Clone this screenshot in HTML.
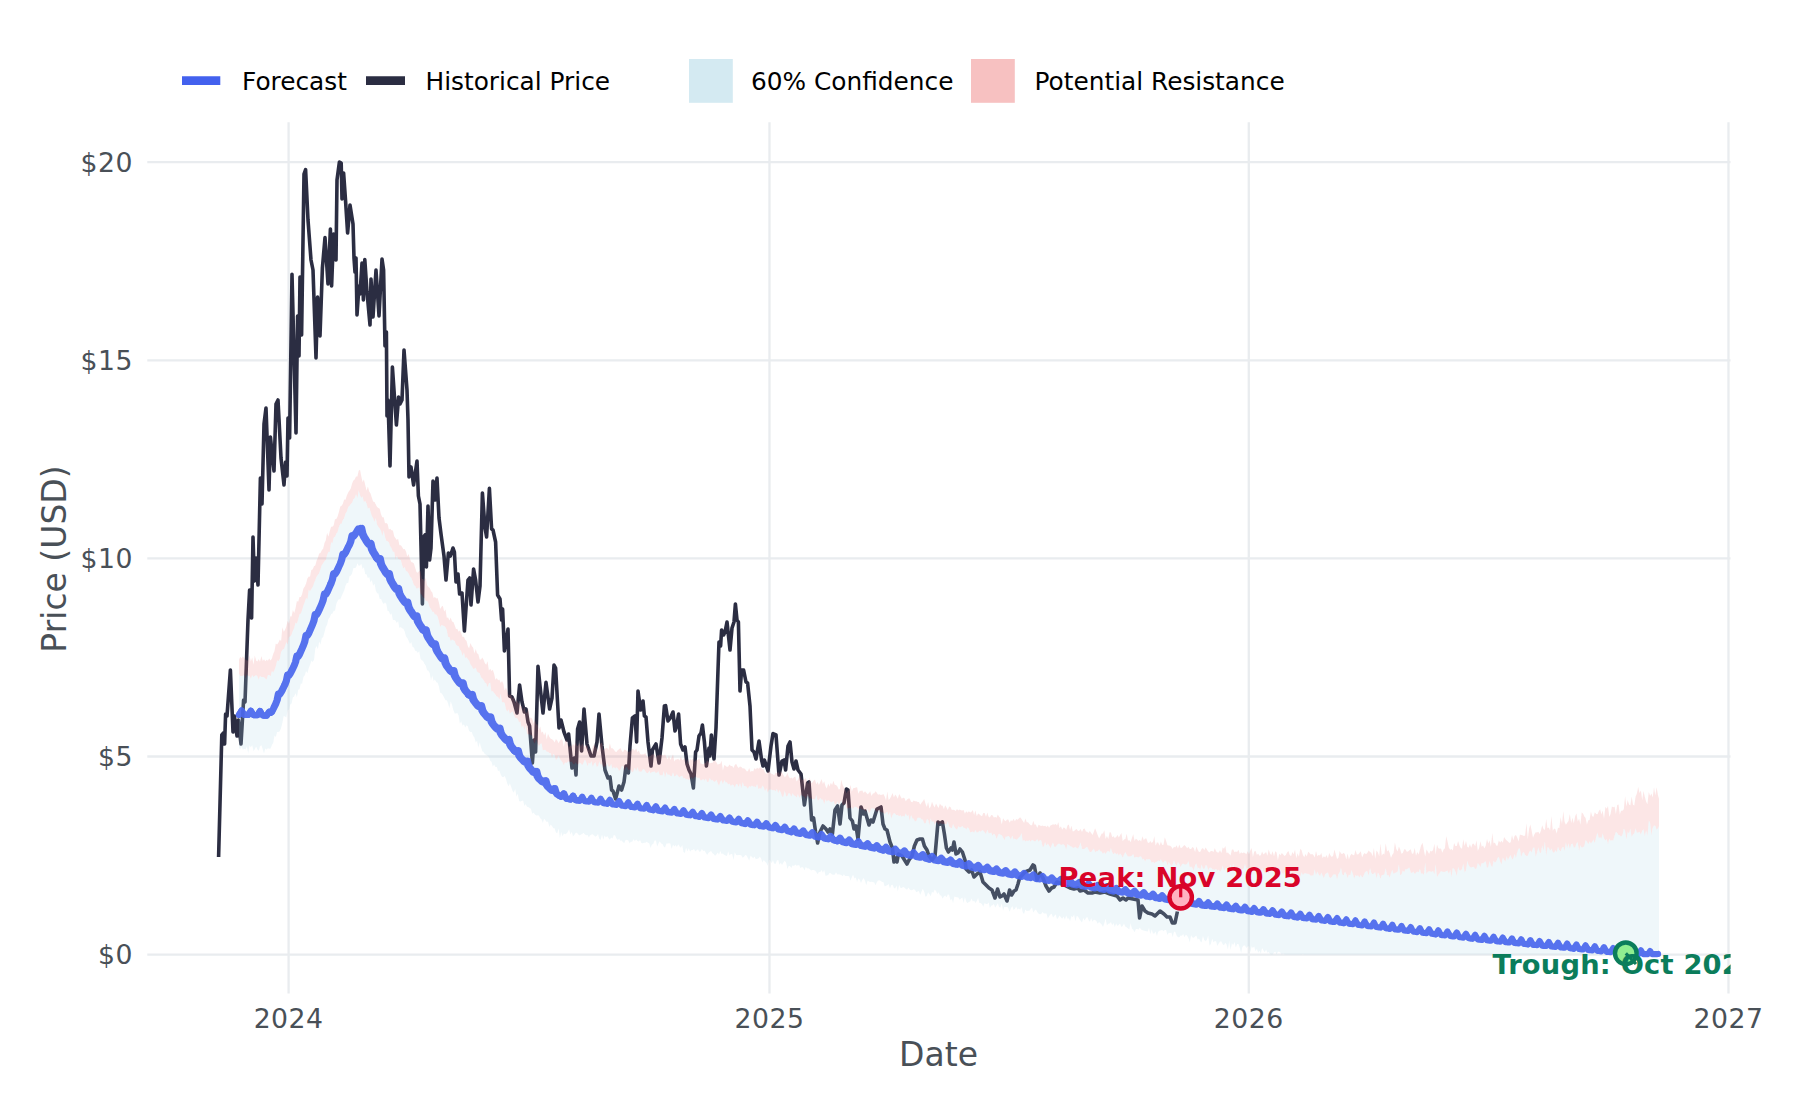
<!DOCTYPE html>
<html lang="en"><head><meta charset="utf-8"><title>Price Forecast</title>
<style>html,body{margin:0;padding:0;background:#fff;}body{width:1800px;height:1100px;overflow:hidden;}svg{display:block;}</style>
</head><body>
<svg width="1800" height="1100" viewBox="0 0 1800 1100">
<rect width="1800" height="1100" fill="#ffffff"/>
<g stroke="#e9ecef" stroke-width="2.3" fill="none">
<line x1="147.3" x2="1730.5" y1="162.2" y2="162.2"/>
<line x1="147.3" x2="1730.5" y1="360.3" y2="360.3"/>
<line x1="147.3" x2="1730.5" y1="558.4" y2="558.4"/>
<line x1="147.3" x2="1730.5" y1="756.5" y2="756.5"/>
<line x1="147.3" x2="1730.5" y1="954.6" y2="954.6"/>
<line x1="288.6" x2="288.6" y1="122.2" y2="993.5"/>
<line x1="769.5" x2="769.5" y1="122.2" y2="993.5"/>
<line x1="1248.8" x2="1248.8" y1="122.2" y2="993.5"/>
<line x1="1728.5" x2="1728.5" y1="122.2" y2="993.5"/>
</g>
<polyline points="218.6,857.0 221.8,735.0 223.5,733.0 224.6,744.0 225.6,714.0 227.0,716.0 230.4,670.0 233.0,732.0 234.4,716.0 237.0,736.0 238.4,720.0 241.0,744.0 243.6,700.0 245.0,702.0 248.0,620.0 249.6,590.0 251.6,618.0 253.0,537.0 254.4,581.0 256.0,558.0 258.0,585.0 260.4,478.0 262.0,504.0 264.0,424.0 266.0,408.0 269.0,490.0 270.4,437.0 274.0,471.0 276.0,404.0 278.0,400.0 281.0,458.0 284.0,485.0 285.6,462.0 287.0,476.0 288.0,418.0 289.6,438.0 292.0,274.4 296.0,433.0 297.6,316.0 299.0,356.0 300.0,277.0 301.6,335.0 304.0,174.0 305.6,169.6 308.0,220.0 311.0,260.0 313.0,270.0 316.0,358.0 317.6,297.0 320.0,336.0 322.4,268.0 325.0,237.6 328.0,284.0 330.4,229.0 331.6,286.0 333.6,234.0 336.0,260.0 337.0,180.0 339.4,162.0 341.2,163.0 342.0,199.0 343.6,173.0 345.5,200.0 347.6,233.0 350.0,205.0 353.0,224.0 354.0,258.0 355.0,272.0 356.0,258.0 357.0,315.0 359.0,286.0 360.0,294.0 362.0,263.0 363.4,300.0 364.8,259.6 367.0,292.0 370.0,325.0 371.0,279.0 373.0,317.0 376.0,270.0 379.0,316.0 382.0,259.0 383.6,270.0 385.0,346.0 386.4,332.0 387.0,416.0 388.0,400.0 390.0,466.0 392.4,367.0 396.4,425.0 398.6,397.0 400.0,404.0 402.0,400.0 404.0,350.0 407.0,390.0 408.0,420.0 409.0,477.0 411.0,467.0 413.6,485.0 417.0,461.0 418.4,496.0 420.0,504.0 422.4,604.0 423.6,537.0 425.0,535.0 426.4,567.0 428.0,506.0 429.6,560.0 431.0,548.0 433.0,481.0 435.0,500.0 437.0,478.0 439.0,518.0 441.0,534.0 444.0,556.0 446.0,580.0 448.4,553.0 450.4,556.0 453.0,548.0 454.4,552.0 456.0,582.0 458.0,574.0 459.6,594.0 462.0,593.0 464.4,631.0 468.0,580.0 469.6,578.0 471.0,605.0 473.6,569.0 475.6,580.0 478.0,602.0 480.0,586.0 482.4,493.0 485.0,528.0 486.6,537.0 489.4,488.4 491.6,529.0 493.0,530.0 495.6,542.0 497.6,595.0 500.0,599.0 501.6,620.0 502.6,609.0 504.4,651.0 508.0,629.0 509.6,696.0 512.0,697.0 514.0,702.0 517.0,713.0 519.6,685.0 522.0,702.0 524.4,712.0 526.0,709.0 528.0,722.0 529.6,726.0 532.4,763.0 534.0,740.0 535.6,752.0 538.0,666.4 540.0,686.0 543.0,713.0 546.0,682.4 549.6,709.0 552.0,698.0 554.0,665.0 555.6,668.0 559.0,728.0 561.0,720.0 564.0,732.0 567.0,740.0 568.6,734.0 572.0,768.0 574.4,758.0 576.0,775.0 577.6,729.0 579.6,722.0 581.6,751.0 584.0,709.0 587.0,744.0 591.0,756.0 594.0,756.0 597.0,742.0 599.0,714.0 602.0,746.0 605.0,770.0 608.0,778.0 610.0,777.0 611.6,790.0 613.0,791.0 615.6,799.0 619.0,786.0 621.6,790.0 624.0,782.0 626.0,766.0 628.4,773.0 630.0,746.0 632.4,718.0 635.0,716.0 636.6,742.0 638.0,691.0 640.6,710.0 643.0,701.0 644.4,716.0 646.0,717.0 648.0,742.0 651.0,766.0 652.4,750.0 656.0,744.0 659.0,763.0 662.0,738.0 664.4,706.0 665.6,705.6 668.0,721.0 670.4,718.0 673.0,712.0 675.0,731.0 676.6,726.0 678.6,714.0 680.6,744.0 683.0,750.0 685.0,747.0 687.0,764.0 689.0,770.0 691.0,774.0 693.4,788.0 695.6,752.0 697.0,750.0 699.0,736.0 701.0,733.0 702.4,725.0 704.4,742.0 706.4,766.0 709.0,748.0 709.8,756.0 711.4,735.0 714.0,759.0 716.0,728.0 718.0,670.0 719.0,642.0 720.6,646.0 721.6,630.0 723.6,635.0 725.0,632.0 727.0,622.0 730.0,650.0 732.0,628.0 734.0,622.0 735.4,604.0 737.0,620.0 738.4,622.0 740.0,691.0 741.6,670.0 743.6,670.0 746.0,682.0 747.6,683.0 750.0,706.0 752.0,750.0 754.0,752.0 756.0,759.0 759.0,741.0 761.6,760.0 763.0,766.0 764.4,760.0 768.0,771.0 771.0,746.0 773.0,733.6 776.0,735.0 779.0,775.0 782.0,761.0 784.0,760.0 785.6,770.0 788.0,746.0 790.0,742.0 792.0,762.0 794.0,769.0 796.0,761.0 798.0,770.0 801.0,774.0 804.4,805.0 807.6,783.0 809.0,782.0 811.6,820.0 813.6,818.0 815.6,832.0 817.6,843.0 820.0,832.0 823.0,826.0 826.0,829.0 828.0,832.0 830.0,829.0 832.4,834.0 835.0,810.0 837.6,806.0 840.0,824.0 842.0,805.0 844.0,803.0 846.4,789.0 848.0,790.0 850.0,818.0 852.4,821.0 854.0,829.0 856.0,826.0 858.0,839.0 861.0,807.0 863.6,814.0 865.0,811.0 869.0,825.0 871.0,820.0 873.0,822.0 877.0,809.0 879.0,808.0 881.0,807.0 883.0,824.0 885.0,829.0 887.0,830.0 890.0,842.0 892.4,848.0 894.0,862.0 895.6,858.0 897.0,862.0 898.4,854.0 902.0,856.0 907.0,864.0 909.0,860.0 912.0,856.0 914.4,846.0 917.0,840.0 920.0,839.0 922.4,839.0 924.4,846.0 927.0,850.0 929.0,856.0 932.0,860.0 935.0,856.0 938.0,822.0 940.0,824.0 942.4,822.0 944.4,834.0 946.4,848.0 948.4,852.0 951.0,848.0 952.4,850.0 954.0,842.0 956.0,854.0 958.0,853.0 960.0,849.0 962.4,852.0 965.0,860.0 966.0,869.0 969.0,872.0 971.6,870.0 974.0,877.0 977.0,874.0 980.0,872.0 983.0,882.0 986.0,885.0 989.0,888.0 992.0,890.0 995.0,898.0 997.6,889.0 1000.0,897.0 1002.0,896.0 1004.0,894.0 1007.0,901.0 1009.6,890.0 1011.6,895.0 1014.0,891.0 1016.0,890.0 1018.0,884.0 1019.6,878.0 1025.0,872.0 1030.0,870.0 1033.0,865.0 1034.4,866.0 1037.0,880.0 1040.0,873.0 1043.0,878.0 1046.0,886.0 1049.0,891.0 1051.6,888.0 1054.0,887.0 1057.0,882.0 1062.0,884.0 1066.0,886.0 1070.0,888.0 1074.0,889.0 1078.0,888.0 1080.0,891.0 1084.0,890.0 1088.0,893.0 1092.0,893.0 1095.0,892.0 1100.0,893.0 1105.0,892.0 1110.0,894.0 1117.0,896.0 1120.0,900.0 1123.0,898.0 1126.0,900.0 1128.0,898.0 1133.0,899.0 1138.0,900.0 1139.6,918.0 1142.0,906.0 1145.0,911.0 1148.0,913.0 1152.0,914.0 1155.0,916.0 1160.0,911.0 1164.0,914.0 1167.0,917.0 1170.0,917.0 1172.4,923.0 1175.0,923.0 1177.4,911.5" fill="none" stroke="#2b2d42" stroke-width="3.6" stroke-linejoin="round" stroke-linecap="butt"/>
<polygon points="239.0,659.8 240.3,656.8 241.6,658.4 242.9,656.2 244.3,658.3 245.6,659.7 246.9,660.6 248.2,660.6 249.5,655.0 250.8,661.4 252.2,657.5 253.5,664.7 254.8,655.4 256.1,660.4 257.4,661.4 258.7,658.9 260.0,661.7 261.4,656.0 262.7,660.9 264.0,659.2 265.3,661.3 266.6,659.7 267.9,660.8 269.2,658.4 270.6,660.4 271.9,658.5 273.2,654.1 274.5,651.1 275.8,643.5 277.1,644.4 278.5,642.6 279.8,639.5 281.1,641.3 282.4,627.2 283.7,631.8 285.0,630.1 286.3,626.5 287.7,620.8 289.0,623.7 290.3,616.2 291.6,616.5 292.9,609.9 294.2,612.9 295.5,608.4 296.9,601.1 298.2,601.8 299.5,597.0 300.8,597.1 302.1,594.2 303.4,588.6 304.8,586.6 306.1,583.5 307.4,578.5 308.7,576.4 310.0,576.8 311.3,570.0 312.6,569.4 314.0,566.3 315.3,565.6 316.6,560.7 317.9,557.7 319.2,553.6 320.5,553.0 321.8,550.2 323.2,548.4 324.5,543.0 325.8,540.2 327.1,532.7 328.4,536.7 329.7,531.6 331.1,526.8 332.4,526.7 333.7,525.3 335.0,519.3 336.3,519.0 337.6,516.4 338.9,512.1 340.3,506.6 341.6,505.8 342.9,503.8 344.2,499.6 345.5,499.8 346.8,495.4 348.2,492.5 349.5,490.4 350.8,488.4 352.1,483.5 353.4,480.6 354.7,479.5 356.0,476.4 357.4,476.4 358.7,470.8 360.0,469.7 361.3,476.5 362.6,482.0 363.9,479.5 365.2,484.9 366.6,490.7 367.9,486.5 369.2,491.4 370.5,493.4 371.8,497.4 373.1,501.4 374.5,502.1 375.8,504.6 377.1,506.9 378.4,507.9 379.7,508.8 381.0,514.2 382.3,517.2 383.7,517.2 385.0,523.3 386.3,523.0 387.6,523.9 388.9,529.6 390.2,528.8 391.5,530.2 392.9,530.5 394.2,536.3 395.5,538.3 396.8,540.0 398.1,538.7 399.4,545.2 400.8,545.2 402.1,547.1 403.4,549.3 404.7,549.0 406.0,551.4 407.3,556.6 408.6,554.1 410.0,559.1 411.3,562.0 412.6,562.6 413.9,563.6 415.2,568.0 416.5,571.9 417.8,572.8 419.2,571.1 420.5,571.3 421.8,579.2 423.1,578.7 424.4,581.4 425.7,577.5 427.1,585.3 428.4,587.0 429.7,588.1 431.0,590.9 432.3,592.4 433.6,597.9 434.9,597.0 436.3,598.5 437.6,597.9 438.9,602.4 440.2,609.0 441.5,606.7 442.8,605.8 444.2,611.6 445.5,609.5 446.8,617.8 448.1,617.6 449.4,620.4 450.7,617.6 452.0,621.6 453.4,621.9 454.7,625.3 456.0,629.1 457.3,628.8 458.6,631.7 459.9,630.4 461.2,633.3 462.6,637.0 463.9,636.7 465.2,639.7 466.5,640.8 467.8,646.0 469.1,648.4 470.5,642.9 471.8,646.3 473.1,647.6 474.4,653.4 475.7,648.9 477.0,653.3 478.3,654.1 479.7,659.5 481.0,659.5 482.3,657.6 483.6,659.8 484.9,663.3 486.2,664.7 487.5,661.3 488.9,670.6 490.2,668.7 491.5,671.0 492.8,669.7 494.1,673.8 495.4,679.8 496.8,678.1 498.1,680.2 499.4,679.5 500.7,683.1 502.0,681.0 503.3,683.4 504.6,690.5 506.0,687.5 507.3,691.6 508.6,694.9 509.9,694.8 511.2,695.0 512.5,699.1 513.8,696.0 515.2,703.4 516.5,699.6 517.8,702.3 519.1,703.8 520.4,706.0 521.7,705.7 523.1,711.4 524.4,706.8 525.7,712.7 527.0,712.7 528.3,708.2 529.6,718.2 530.9,717.5 532.3,719.1 533.6,723.6 534.9,720.2 536.2,724.4 537.5,724.2 538.8,730.2 540.2,726.5 541.5,732.7 542.8,731.4 544.1,735.5 545.4,732.0 546.7,739.6 548.0,733.8 549.4,736.9 550.7,738.7 552.0,739.3 553.3,740.2 554.6,742.4 555.9,739.0 557.2,740.5 558.6,743.3 559.9,740.7 561.2,739.1 562.5,740.2 563.8,746.7 565.1,741.5 566.5,739.9 567.8,743.9 569.1,747.3 570.4,745.3 571.7,746.8 573.0,743.8 574.3,746.2 575.7,741.7 577.0,746.2 578.3,745.2 579.6,743.1 580.9,746.7 582.2,743.5 583.5,745.8 584.9,746.9 586.2,745.0 587.5,746.6 588.8,751.1 590.1,747.3 591.4,751.7 592.8,746.6 594.1,744.4 595.4,747.0 596.7,748.4 598.0,752.5 599.3,745.2 600.6,743.4 602.0,742.4 603.3,749.9 604.6,749.6 605.9,748.1 607.2,748.0 608.5,750.1 609.8,743.2 611.2,748.2 612.5,748.3 613.8,749.5 615.1,751.6 616.4,752.0 617.7,750.3 619.1,749.3 620.4,747.9 621.7,750.7 623.0,752.3 624.3,749.6 625.6,749.9 626.9,751.3 628.3,752.0 629.6,751.6 630.9,751.3 632.2,749.1 633.5,749.2 634.8,750.8 636.2,748.3 637.5,752.3 638.8,750.6 640.1,753.7 641.4,754.6 642.7,754.2 644.0,754.2 645.4,752.9 646.7,756.3 648.0,756.6 649.3,756.6 650.6,755.9 651.9,754.6 653.2,754.5 654.6,754.4 655.9,758.1 657.2,755.1 658.5,755.8 659.8,754.2 661.1,755.5 662.5,755.1 663.8,755.6 665.1,754.2 666.4,757.2 667.7,759.6 669.0,755.3 670.3,760.0 671.7,757.6 673.0,754.3 674.3,761.6 675.6,759.6 676.9,759.6 678.2,758.8 679.5,760.4 680.9,756.5 682.2,760.2 683.5,759.2 684.8,758.3 686.1,764.2 687.4,759.5 688.8,764.3 690.1,758.5 691.4,760.6 692.7,758.6 694.0,762.0 695.3,760.7 696.6,760.0 698.0,760.1 699.3,758.2 700.6,763.6 701.9,763.8 703.2,764.6 704.5,763.2 705.8,762.9 707.2,760.2 708.5,762.1 709.8,763.5 711.1,762.8 712.4,763.1 713.7,760.7 715.1,760.6 716.4,762.3 717.7,764.7 719.0,764.1 720.3,763.8 721.6,760.7 722.9,770.6 724.3,765.1 725.6,765.8 726.9,766.9 728.2,766.4 729.5,764.4 730.8,765.9 732.2,766.1 733.5,768.1 734.8,765.1 736.1,763.8 737.4,766.6 738.7,768.1 740.0,766.5 741.4,767.1 742.7,768.5 744.0,768.3 745.3,769.2 746.6,771.3 747.9,771.2 749.2,768.1 750.6,772.0 751.9,770.8 753.2,771.6 754.5,767.9 755.8,769.4 757.1,767.8 758.5,768.7 759.8,767.4 761.1,767.7 762.4,769.3 763.7,769.3 765.0,772.6 766.3,774.1 767.7,772.2 769.0,771.1 770.3,773.0 771.6,773.7 772.9,774.3 774.2,775.5 775.5,772.8 776.9,772.9 778.2,771.7 779.5,774.3 780.8,771.3 782.1,773.0 783.4,775.1 784.8,777.3 786.1,775.9 787.4,772.8 788.7,776.6 790.0,778.5 791.3,777.6 792.6,778.7 794.0,777.2 795.3,776.5 796.6,781.4 797.9,779.7 799.2,776.8 800.5,776.1 801.8,780.5 803.2,779.5 804.5,779.5 805.8,778.1 807.1,781.9 808.4,784.0 809.7,777.6 811.1,783.0 812.4,782.6 813.7,780.7 815.0,779.6 816.3,784.3 817.6,782.0 818.9,785.0 820.3,782.0 821.6,779.1 822.9,783.9 824.2,781.2 825.5,786.2 826.8,788.6 828.2,783.6 829.5,786.4 830.8,782.8 832.1,785.1 833.4,780.8 834.7,784.7 836.0,785.0 837.4,786.5 838.7,789.5 840.0,788.9 841.3,779.8 842.6,784.7 843.9,787.2 845.2,790.0 846.6,793.6 847.9,790.4 849.2,790.5 850.5,784.7 851.8,791.7 853.1,788.3 854.5,787.9 855.8,787.6 857.1,787.3 858.4,793.8 859.7,791.1 861.0,790.7 862.3,790.5 863.7,792.9 865.0,791.2 866.3,792.8 867.6,794.2 868.9,793.2 870.2,791.3 871.5,795.9 872.9,793.4 874.2,793.2 875.5,791.2 876.8,792.7 878.1,794.7 879.4,794.2 880.8,794.9 882.1,794.8 883.4,794.0 884.7,796.6 886.0,800.6 887.3,791.5 888.6,799.9 890.0,798.4 891.3,796.1 892.6,792.9 893.9,797.4 895.2,794.4 896.5,796.3 897.8,798.7 899.2,794.1 900.5,796.3 901.8,798.8 903.1,797.8 904.4,798.1 905.7,801.3 907.1,799.6 908.4,798.6 909.7,798.6 911.0,801.7 912.3,802.2 913.6,800.5 914.9,801.2 916.3,801.3 917.6,802.1 918.9,802.0 920.2,804.8 921.5,802.8 922.8,801.3 924.2,798.9 925.5,803.8 926.8,807.0 928.1,801.9 929.4,808.4 930.7,806.4 932.0,801.7 933.4,805.2 934.7,807.6 936.0,803.4 937.3,805.9 938.6,808.1 939.9,803.6 941.2,805.5 942.6,805.7 943.9,809.3 945.2,805.2 946.5,807.4 947.8,810.0 949.1,806.6 950.5,807.0 951.8,810.0 953.1,809.7 954.4,810.0 955.7,811.0 957.0,809.0 958.3,810.4 959.7,809.6 961.0,810.2 962.3,810.4 963.6,810.1 964.9,813.8 966.2,811.3 967.5,812.7 968.9,811.3 970.2,812.5 971.5,811.7 972.8,810.0 974.1,815.0 975.4,810.4 976.8,816.2 978.1,813.5 979.4,814.3 980.7,815.4 982.0,816.2 983.3,813.0 984.6,813.1 986.0,816.8 987.3,812.4 988.6,816.7 989.9,817.4 991.2,814.9 992.5,815.2 993.8,817.4 995.2,816.9 996.5,817.7 997.8,814.4 999.1,816.7 1000.4,818.1 1001.7,824.5 1003.1,818.3 1004.4,820.2 1005.7,821.2 1007.0,819.6 1008.3,819.5 1009.6,822.7 1010.9,820.2 1012.3,821.0 1013.6,818.8 1014.9,821.3 1016.2,819.0 1017.5,819.8 1018.8,818.4 1020.2,817.3 1021.5,819.1 1022.8,821.0 1024.1,822.9 1025.4,818.4 1026.7,822.2 1028.0,822.3 1029.4,824.1 1030.7,825.2 1032.0,825.3 1033.3,820.7 1034.6,824.7 1035.9,824.5 1037.2,828.1 1038.6,824.8 1039.9,825.5 1041.2,826.0 1042.5,825.4 1043.8,826.2 1045.1,825.7 1046.5,826.9 1047.8,825.5 1049.1,827.7 1050.4,825.6 1051.7,825.0 1053.0,824.3 1054.3,824.8 1055.7,824.0 1057.0,825.5 1058.3,822.3 1059.6,828.3 1060.9,826.2 1062.2,829.7 1063.5,827.5 1064.9,827.9 1066.2,829.9 1067.5,825.5 1068.8,824.6 1070.1,830.1 1071.4,825.8 1072.8,831.4 1074.1,831.1 1075.4,829.8 1076.7,829.0 1078.0,830.9 1079.3,830.7 1080.6,828.9 1082.0,831.9 1083.3,828.9 1084.6,828.4 1085.9,831.6 1087.2,831.7 1088.5,833.0 1089.8,831.1 1091.2,833.1 1092.5,835.0 1093.8,832.1 1095.1,828.2 1096.4,831.5 1097.7,835.0 1099.1,838.4 1100.4,836.2 1101.7,833.5 1103.0,833.6 1104.3,830.3 1105.6,839.0 1106.9,835.9 1108.3,838.9 1109.6,832.3 1110.9,832.4 1112.2,837.2 1113.5,836.2 1114.8,837.9 1116.2,837.1 1117.5,834.9 1118.8,837.4 1120.1,835.3 1121.4,833.1 1122.7,841.2 1124.0,839.5 1125.4,839.0 1126.7,833.8 1128.0,840.7 1129.3,839.9 1130.6,842.3 1131.9,837.9 1133.2,834.2 1134.6,841.0 1135.9,838.5 1137.2,839.8 1138.5,841.0 1139.8,839.7 1141.1,841.4 1142.5,836.3 1143.8,840.2 1145.1,838.6 1146.4,838.4 1147.7,842.5 1149.0,842.9 1150.3,840.9 1151.7,843.0 1153.0,841.8 1154.3,836.2 1155.6,845.8 1156.9,842.5 1158.2,842.6 1159.5,845.8 1160.9,841.5 1162.2,845.1 1163.5,844.7 1164.8,837.3 1166.1,841.1 1167.4,845.2 1168.8,845.4 1170.1,845.7 1171.4,846.7 1172.7,849.1 1174.0,846.8 1175.3,847.4 1176.6,845.3 1178.0,848.5 1179.3,844.6 1180.6,847.9 1181.9,847.7 1183.2,846.3 1184.5,844.9 1185.8,846.4 1187.2,848.3 1188.5,846.8 1189.8,849.1 1191.1,849.1 1192.4,846.9 1193.7,848.0 1195.1,852.1 1196.4,846.6 1197.7,849.7 1199.0,851.9 1200.3,851.8 1201.6,848.9 1202.9,847.9 1204.3,850.3 1205.6,847.5 1206.9,849.5 1208.2,851.4 1209.5,852.6 1210.8,851.0 1212.2,851.1 1213.5,851.9 1214.8,848.0 1216.1,851.2 1217.4,852.4 1218.7,852.4 1220.0,850.3 1221.4,852.9 1222.7,847.6 1224.0,848.7 1225.3,846.0 1226.6,853.0 1227.9,852.5 1229.2,854.1 1230.6,855.6 1231.9,849.4 1233.2,849.5 1234.5,852.2 1235.8,851.5 1237.1,852.0 1238.5,849.8 1239.8,853.9 1241.1,852.2 1242.4,853.3 1243.7,852.5 1245.0,853.0 1246.3,854.3 1247.7,851.3 1249.0,854.2 1250.3,850.5 1251.6,848.0 1252.9,856.9 1254.2,851.7 1255.5,850.8 1256.9,854.7 1258.2,853.7 1259.5,855.7 1260.8,855.2 1262.1,851.5 1263.4,854.4 1264.8,853.2 1266.1,852.0 1267.4,855.7 1268.7,849.4 1270.0,853.5 1271.3,855.1 1272.6,851.3 1274.0,856.2 1275.3,851.3 1276.6,852.4 1277.9,860.2 1279.2,853.8 1280.5,855.2 1281.8,853.0 1283.2,854.4 1284.5,855.9 1285.8,855.1 1287.1,852.6 1288.4,851.1 1289.7,855.0 1291.1,856.3 1292.4,851.9 1293.7,854.2 1295.0,849.5 1296.3,858.3 1297.6,853.3 1298.9,856.8 1300.3,848.8 1301.6,850.3 1302.9,854.9 1304.2,857.3 1305.5,853.9 1306.8,856.6 1308.2,851.8 1309.5,853.1 1310.8,854.5 1312.1,854.0 1313.4,854.9 1314.7,857.5 1316.0,851.0 1317.4,856.2 1318.7,855.0 1320.0,855.5 1321.3,853.1 1322.6,857.9 1323.9,856.2 1325.2,857.4 1326.6,855.1 1327.9,858.4 1329.2,852.9 1330.5,855.6 1331.8,856.9 1333.1,855.7 1334.5,849.5 1335.8,854.6 1337.1,858.9 1338.4,857.7 1339.7,851.1 1341.0,853.6 1342.3,853.9 1343.7,852.8 1345.0,854.4 1346.3,859.6 1347.6,853.4 1348.9,859.6 1350.2,855.7 1351.5,853.7 1352.9,855.0 1354.2,855.3 1355.5,850.0 1356.8,854.3 1358.1,854.4 1359.4,852.9 1360.8,851.2 1362.1,857.4 1363.4,854.4 1364.7,853.1 1366.0,854.3 1367.3,853.1 1368.6,850.5 1370.0,852.0 1371.3,852.8 1372.6,856.3 1373.9,847.8 1375.2,858.9 1376.5,850.6 1377.8,852.2 1379.2,856.3 1380.5,843.5 1381.8,855.8 1383.1,853.4 1384.4,854.4 1385.7,843.2 1387.1,851.5 1388.4,850.1 1389.7,853.1 1391.0,858.0 1392.3,854.8 1393.6,853.1 1394.9,842.4 1396.3,849.0 1397.6,851.6 1398.9,846.6 1400.2,849.5 1401.5,853.8 1402.8,853.1 1404.2,849.2 1405.5,849.5 1406.8,851.8 1408.1,851.6 1409.4,850.3 1410.7,849.3 1412.0,853.8 1413.4,853.6 1414.7,847.8 1416.0,855.7 1417.3,852.0 1418.6,854.5 1419.9,849.8 1421.2,845.2 1422.6,842.8 1423.9,850.2 1425.2,856.6 1426.5,849.5 1427.8,851.6 1429.1,854.1 1430.5,850.7 1431.8,851.5 1433.1,850.1 1434.4,843.7 1435.7,854.4 1437.0,844.5 1438.3,848.3 1439.7,848.7 1441.0,848.6 1442.3,852.8 1443.6,849.4 1444.9,848.3 1446.2,836.3 1447.5,841.2 1448.9,847.8 1450.2,849.7 1451.5,849.0 1452.8,850.6 1454.1,843.1 1455.4,845.9 1456.8,845.9 1458.1,840.9 1459.4,845.3 1460.7,848.1 1462.0,848.7 1463.3,839.2 1464.6,846.0 1466.0,841.0 1467.3,846.8 1468.6,847.8 1469.9,844.0 1471.2,847.8 1472.5,843.7 1473.8,843.8 1475.2,846.2 1476.5,840.2 1477.8,850.9 1479.1,848.0 1480.4,841.3 1481.7,846.8 1483.1,845.4 1484.4,848.5 1485.7,845.8 1487.0,839.0 1488.3,843.4 1489.6,840.5 1490.9,847.1 1492.3,832.9 1493.6,843.6 1494.9,842.6 1496.2,845.4 1497.5,845.7 1498.8,840.6 1500.2,842.5 1501.5,840.8 1502.8,842.7 1504.1,837.0 1505.4,838.9 1506.7,840.6 1508.0,841.5 1509.4,842.9 1510.7,842.3 1512.0,834.9 1513.3,840.3 1514.6,836.1 1515.9,834.9 1517.2,837.4 1518.6,841.6 1519.9,834.6 1521.2,835.0 1522.5,835.2 1523.8,835.9 1525.1,835.5 1526.5,823.3 1527.8,839.2 1529.1,828.8 1530.4,824.6 1531.7,830.9 1533.0,837.7 1534.3,834.5 1535.7,832.2 1537.0,832.4 1538.3,831.7 1539.6,834.0 1540.9,830.7 1542.2,825.3 1543.5,828.9 1544.9,830.0 1546.2,819.0 1547.5,828.2 1548.8,827.6 1550.1,830.4 1551.4,815.9 1552.8,830.8 1554.1,828.6 1555.4,829.2 1556.7,833.6 1558.0,827.6 1559.3,828.2 1560.6,817.1 1562.0,824.1 1563.3,811.3 1564.6,822.1 1565.9,824.8 1567.2,822.8 1568.5,820.9 1569.8,814.1 1571.2,823.0 1572.5,817.8 1573.8,823.5 1575.1,816.6 1576.4,813.3 1577.7,821.6 1579.1,818.7 1580.4,824.8 1581.7,812.4 1583.0,813.4 1584.3,816.5 1585.6,818.1 1586.9,824.5 1588.3,820.3 1589.6,820.0 1590.9,811.5 1592.2,816.3 1593.5,816.7 1594.8,812.3 1596.2,814.1 1597.5,814.3 1598.8,811.2 1600.1,809.2 1601.4,814.5 1602.7,810.4 1604.0,818.9 1605.4,806.7 1606.7,808.7 1608.0,806.1 1609.3,817.1 1610.6,813.8 1611.9,806.4 1613.2,807.2 1614.6,806.8 1615.9,814.1 1617.2,805.0 1618.5,804.6 1619.8,814.4 1621.1,810.8 1622.5,810.8 1623.8,809.3 1625.1,796.3 1626.4,806.5 1627.7,800.1 1629.0,804.6 1630.3,805.5 1631.7,796.5 1633.0,804.7 1634.3,805.6 1635.6,796.4 1636.9,793.4 1638.2,787.0 1639.5,792.9 1640.9,790.5 1642.2,800.3 1643.5,791.1 1644.8,796.7 1646.1,801.6 1647.4,804.2 1648.8,792.0 1650.1,795.9 1651.4,793.4 1652.7,797.4 1654.0,787.2 1655.3,795.5 1656.6,787.2 1658.0,795.3 1659.0,798.8 1659.0,826.1 1658.0,828.3 1656.6,829.6 1655.3,825.7 1654.0,825.4 1652.7,827.8 1651.4,835.3 1650.1,822.8 1648.8,820.4 1647.4,836.0 1646.1,830.3 1644.8,836.3 1643.5,829.3 1642.2,830.8 1640.9,834.5 1639.5,831.7 1638.2,832.4 1636.9,832.8 1635.6,828.3 1634.3,833.2 1633.0,834.3 1631.7,837.0 1630.3,828.4 1629.0,833.6 1627.7,831.6 1626.4,839.8 1625.1,830.8 1623.8,828.4 1622.5,834.8 1621.1,836.6 1619.8,835.3 1618.5,835.0 1617.2,832.8 1615.9,831.7 1614.6,835.8 1613.2,840.6 1611.9,840.2 1610.6,840.8 1609.3,838.5 1608.0,844.3 1606.7,839.0 1605.4,840.4 1604.0,838.3 1602.7,833.2 1601.4,838.6 1600.1,837.1 1598.8,838.2 1597.5,832.6 1596.2,836.7 1594.8,843.1 1593.5,839.5 1592.2,841.8 1590.9,843.6 1589.6,841.2 1588.3,844.2 1586.9,841.4 1585.6,840.0 1584.3,846.1 1583.0,847.3 1581.7,847.7 1580.4,844.9 1579.1,851.0 1577.7,841.9 1576.4,843.4 1575.1,847.6 1573.8,847.4 1572.5,843.5 1571.2,844.0 1569.8,848.7 1568.5,843.3 1567.2,848.3 1565.9,842.3 1564.6,851.1 1563.3,846.7 1562.0,847.7 1560.6,851.3 1559.3,850.0 1558.0,846.8 1556.7,852.2 1555.4,849.9 1554.1,853.1 1552.8,851.9 1551.4,848.3 1550.1,850.8 1548.8,847.7 1547.5,847.2 1546.2,856.0 1544.9,841.3 1543.5,850.7 1542.2,845.3 1540.9,853.3 1539.6,852.0 1538.3,847.3 1537.0,852.7 1535.7,856.8 1534.3,847.3 1533.0,848.1 1531.7,852.5 1530.4,850.5 1529.1,852.1 1527.8,855.8 1526.5,855.9 1525.1,855.0 1523.8,852.1 1522.5,853.1 1521.2,857.0 1519.9,848.6 1518.6,848.5 1517.2,852.2 1515.9,857.8 1514.6,854.0 1513.3,858.2 1512.0,859.5 1510.7,854.9 1509.4,856.9 1508.0,860.1 1506.7,856.3 1505.4,861.6 1504.1,859.9 1502.8,857.4 1501.5,864.6 1500.2,861.6 1498.8,856.7 1497.5,858.1 1496.2,861.5 1494.9,862.4 1493.6,860.8 1492.3,867.2 1490.9,865.0 1489.6,861.0 1488.3,866.3 1487.0,868.3 1485.7,861.3 1484.4,862.0 1483.1,863.4 1481.7,863.0 1480.4,867.2 1479.1,864.6 1477.8,863.0 1476.5,868.6 1475.2,869.0 1473.8,866.7 1472.5,866.9 1471.2,867.5 1469.9,866.9 1468.6,864.9 1467.3,860.7 1466.0,870.3 1464.6,872.6 1463.3,863.5 1462.0,869.1 1460.7,870.6 1459.4,869.9 1458.1,866.8 1456.8,876.1 1455.4,871.6 1454.1,869.1 1452.8,867.7 1451.5,877.1 1450.2,869.7 1448.9,874.1 1447.5,870.5 1446.2,871.1 1444.9,871.9 1443.6,871.7 1442.3,871.7 1441.0,871.0 1439.7,873.0 1438.3,875.0 1437.0,877.2 1435.7,864.3 1434.4,874.3 1433.1,871.0 1431.8,871.8 1430.5,871.6 1429.1,871.3 1427.8,871.8 1426.5,874.0 1425.2,862.4 1423.9,875.0 1422.6,873.3 1421.2,873.7 1419.9,868.8 1418.6,872.3 1417.3,871.6 1416.0,872.4 1414.7,874.0 1413.4,871.6 1412.0,872.9 1410.7,872.4 1409.4,867.5 1408.1,868.2 1406.8,869.6 1405.5,869.0 1404.2,872.2 1402.8,870.4 1401.5,874.2 1400.2,875.3 1398.9,864.2 1397.6,871.4 1396.3,872.4 1394.9,872.8 1393.6,874.1 1392.3,869.7 1391.0,872.9 1389.7,877.5 1388.4,875.0 1387.1,875.5 1385.7,868.0 1384.4,874.1 1383.1,875.0 1381.8,874.9 1380.5,879.0 1379.2,874.6 1377.8,872.6 1376.5,878.4 1375.2,872.0 1373.9,873.4 1372.6,874.3 1371.3,872.7 1370.0,868.0 1368.6,875.8 1367.3,871.2 1366.0,871.3 1364.7,872.7 1363.4,876.0 1362.1,877.7 1360.8,874.4 1359.4,877.6 1358.1,875.3 1356.8,876.1 1355.5,874.9 1354.2,878.4 1352.9,873.9 1351.5,870.1 1350.2,875.3 1348.9,874.6 1347.6,878.2 1346.3,874.1 1345.0,871.5 1343.7,875.2 1342.3,874.6 1341.0,867.5 1339.7,872.3 1338.4,873.9 1337.1,879.4 1335.8,874.4 1334.5,874.4 1333.1,874.6 1331.8,877.1 1330.5,878.0 1329.2,876.9 1327.9,872.2 1326.6,873.3 1325.2,874.1 1323.9,878.2 1322.6,875.4 1321.3,872.6 1320.0,876.0 1318.7,874.4 1317.4,871.6 1316.0,875.3 1314.7,869.2 1313.4,875.6 1312.1,875.4 1310.8,875.8 1309.5,874.4 1308.2,873.8 1306.8,873.8 1305.5,873.2 1304.2,873.4 1302.9,875.0 1301.6,872.3 1300.3,876.7 1298.9,876.2 1297.6,873.9 1296.3,873.3 1295.0,874.1 1293.7,876.4 1292.4,874.0 1291.1,871.8 1289.7,872.5 1288.4,874.9 1287.1,875.4 1285.8,873.8 1284.5,872.1 1283.2,874.5 1281.8,872.5 1280.5,869.5 1279.2,872.1 1277.9,871.8 1276.6,874.7 1275.3,871.7 1274.0,872.7 1272.6,868.3 1271.3,869.7 1270.0,871.0 1268.7,873.3 1267.4,871.3 1266.1,871.7 1264.8,873.0 1263.4,871.0 1262.1,867.6 1260.8,873.8 1259.5,875.0 1258.2,869.2 1256.9,871.4 1255.5,868.0 1254.2,869.1 1252.9,869.3 1251.6,869.0 1250.3,870.6 1249.0,872.3 1247.7,868.3 1246.3,868.4 1245.0,863.7 1243.7,868.8 1242.4,869.3 1241.1,871.5 1239.8,867.2 1238.5,871.4 1237.1,869.7 1235.8,868.4 1234.5,870.4 1233.2,863.3 1231.9,869.7 1230.6,864.3 1229.2,868.5 1227.9,870.6 1226.6,867.8 1225.3,868.5 1224.0,870.7 1222.7,865.4 1221.4,869.8 1220.0,871.8 1218.7,869.5 1217.4,870.7 1216.1,868.9 1214.8,869.7 1213.5,869.4 1212.2,868.9 1210.8,867.5 1209.5,867.7 1208.2,870.3 1206.9,865.4 1205.6,865.3 1204.3,869.2 1202.9,868.2 1201.6,864.4 1200.3,870.1 1199.0,867.4 1197.7,868.6 1196.4,863.5 1195.1,865.0 1193.7,870.8 1192.4,867.8 1191.1,866.4 1189.8,867.6 1188.5,861.0 1187.2,863.8 1185.8,864.5 1184.5,864.4 1183.2,863.6 1181.9,864.3 1180.6,867.2 1179.3,863.8 1178.0,862.0 1176.6,865.7 1175.3,864.1 1174.0,860.3 1172.7,864.3 1171.4,865.9 1170.1,864.0 1168.8,861.7 1167.4,865.5 1166.1,861.1 1164.8,860.4 1163.5,862.5 1162.2,862.0 1160.9,859.3 1159.5,860.9 1158.2,860.5 1156.9,861.7 1155.6,862.1 1154.3,863.2 1153.0,861.8 1151.7,862.8 1150.3,859.7 1149.0,859.0 1147.7,859.5 1146.4,859.0 1145.1,861.6 1143.8,858.8 1142.5,859.2 1141.1,856.5 1139.8,856.6 1138.5,857.2 1137.2,857.2 1135.9,856.6 1134.6,857.9 1133.2,854.1 1131.9,855.4 1130.6,856.3 1129.3,856.5 1128.0,856.4 1126.7,854.7 1125.4,852.0 1124.0,854.4 1122.7,857.7 1121.4,854.9 1120.1,853.5 1118.8,855.6 1117.5,853.3 1116.2,854.6 1114.8,852.5 1113.5,854.3 1112.2,852.2 1110.9,848.1 1109.6,852.3 1108.3,851.0 1106.9,851.7 1105.6,853.9 1104.3,852.2 1103.0,853.8 1101.7,851.8 1100.4,851.0 1099.1,849.3 1097.7,851.2 1096.4,851.1 1095.1,852.3 1093.8,848.5 1092.5,850.3 1091.2,852.0 1089.8,851.9 1088.5,849.6 1087.2,847.1 1085.9,847.5 1084.6,848.8 1083.3,849.1 1082.0,849.0 1080.6,842.4 1079.3,846.1 1078.0,848.5 1076.7,848.0 1075.4,846.7 1074.1,847.8 1072.8,847.7 1071.4,846.4 1070.1,846.0 1068.8,845.1 1067.5,844.0 1066.2,849.4 1064.9,845.8 1063.5,844.2 1062.2,844.5 1060.9,845.1 1059.6,843.8 1058.3,843.7 1057.0,845.0 1055.7,846.7 1054.3,846.8 1053.0,842.6 1051.7,845.0 1050.4,848.2 1049.1,845.5 1047.8,843.6 1046.5,845.7 1045.1,841.9 1043.8,846.8 1042.5,846.3 1041.2,840.2 1039.9,839.9 1038.6,841.7 1037.2,839.0 1035.9,840.8 1034.6,841.6 1033.3,840.6 1032.0,839.8 1030.7,841.8 1029.4,840.0 1028.0,840.9 1026.7,840.5 1025.4,841.5 1024.1,839.8 1022.8,841.2 1021.5,833.0 1020.2,836.3 1018.8,837.6 1017.5,839.0 1016.2,839.8 1014.9,838.5 1013.6,839.4 1012.3,835.6 1010.9,839.6 1009.6,837.1 1008.3,835.8 1007.0,836.7 1005.7,836.5 1004.4,840.3 1003.1,837.4 1001.7,835.1 1000.4,834.8 999.1,833.6 997.8,835.7 996.5,839.1 995.2,835.0 993.8,833.5 992.5,835.7 991.2,832.5 989.9,833.3 988.6,833.3 987.3,829.4 986.0,834.1 984.6,832.3 983.3,830.5 982.0,830.2 980.7,831.8 979.4,830.7 978.1,832.3 976.8,832.4 975.4,829.9 974.1,832.7 972.8,831.5 971.5,831.9 970.2,832.4 968.9,828.5 967.5,827.2 966.2,829.4 964.9,828.1 963.6,827.7 962.3,826.0 961.0,827.1 959.7,827.4 958.3,826.3 957.0,829.7 955.7,828.8 954.4,827.1 953.1,824.0 951.8,828.3 950.5,827.7 949.1,826.3 947.8,821.2 946.5,824.3 945.2,824.1 943.9,823.7 942.6,824.0 941.2,823.6 939.9,823.0 938.6,825.0 937.3,822.8 936.0,822.1 934.7,824.7 933.4,820.9 932.0,821.9 930.7,818.3 929.4,824.9 928.1,819.5 926.8,819.3 925.5,823.6 924.2,823.0 922.8,819.5 921.5,819.5 920.2,817.7 918.9,817.8 917.6,817.6 916.3,820.9 914.9,821.3 913.6,818.8 912.3,817.9 911.0,815.0 909.7,820.7 908.4,814.7 907.1,816.2 905.7,813.3 904.4,816.7 903.1,815.5 901.8,816.9 900.5,814.9 899.2,816.3 897.8,814.9 896.5,815.3 895.2,813.7 893.9,813.0 892.6,815.0 891.3,818.6 890.0,812.1 888.6,815.2 887.3,811.8 886.0,812.5 884.7,814.0 883.4,812.6 882.1,812.4 880.8,812.0 879.4,810.2 878.1,810.5 876.8,811.9 875.5,810.6 874.2,808.8 872.9,808.5 871.5,808.2 870.2,811.5 868.9,813.2 867.6,808.5 866.3,811.3 865.0,810.8 863.7,809.4 862.3,809.7 861.0,809.1 859.7,808.1 858.4,809.2 857.1,807.8 855.8,806.8 854.5,806.8 853.1,808.9 851.8,807.1 850.5,808.3 849.2,807.7 847.9,808.2 846.6,808.6 845.2,802.7 843.9,805.4 842.6,804.6 841.3,800.0 840.0,802.7 838.7,804.8 837.4,801.3 836.0,804.7 834.7,804.0 833.4,800.8 832.1,802.2 830.8,802.0 829.5,801.1 828.2,800.0 826.8,801.5 825.5,799.2 824.2,804.2 822.9,799.5 821.6,799.8 820.3,797.7 818.9,800.2 817.6,800.3 816.3,794.9 815.0,799.6 813.7,798.9 812.4,799.2 811.1,798.0 809.7,798.6 808.4,796.2 807.1,795.4 805.8,799.3 804.5,796.6 803.2,796.4 801.8,795.1 800.5,795.4 799.2,797.9 797.9,794.1 796.6,797.7 795.3,795.7 794.0,795.6 792.6,793.3 791.3,796.7 790.0,793.5 788.7,792.9 787.4,796.0 786.1,796.3 784.8,790.6 783.4,796.4 782.1,796.8 780.8,792.6 779.5,790.1 778.2,793.3 776.9,788.8 775.5,791.2 774.2,790.1 772.9,790.3 771.6,789.8 770.3,789.3 769.0,789.9 767.7,792.7 766.3,788.3 765.0,791.2 763.7,787.1 762.4,785.4 761.1,789.0 759.8,787.9 758.5,789.2 757.1,784.0 755.8,787.3 754.5,786.6 753.2,786.6 751.9,785.4 750.6,786.7 749.2,786.3 747.9,788.8 746.6,786.8 745.3,786.0 744.0,786.0 742.7,782.1 741.4,788.2 740.0,782.8 738.7,786.9 737.4,784.3 736.1,784.1 734.8,787.5 733.5,784.9 732.2,784.4 730.8,785.9 729.5,783.6 728.2,784.6 726.9,782.3 725.6,782.2 724.3,779.9 722.9,784.2 721.6,780.3 720.3,781.8 719.0,785.7 717.7,782.9 716.4,779.7 715.1,781.7 713.7,781.6 712.4,779.8 711.1,780.6 709.8,777.7 708.5,781.8 707.2,782.1 705.8,778.5 704.5,780.8 703.2,779.0 701.9,780.1 700.6,780.4 699.3,777.5 698.0,778.0 696.6,777.6 695.3,776.2 694.0,777.5 692.7,779.1 691.4,777.1 690.1,779.1 688.8,780.2 687.4,778.9 686.1,779.4 684.8,778.1 683.5,778.3 682.2,775.7 680.9,775.9 679.5,777.6 678.2,776.3 676.9,774.3 675.6,775.8 674.3,776.4 673.0,772.2 671.7,776.3 670.3,775.8 669.0,774.2 667.7,774.9 666.4,772.0 665.1,777.8 663.8,770.9 662.5,775.5 661.1,775.3 659.8,775.2 658.5,771.3 657.2,772.2 655.9,773.2 654.6,771.6 653.2,771.7 651.9,771.9 650.6,773.3 649.3,770.8 648.0,773.3 646.7,773.1 645.4,771.5 644.0,769.0 642.7,769.5 641.4,771.8 640.1,771.4 638.8,771.5 637.5,766.9 636.2,771.2 634.8,767.5 633.5,770.9 632.2,772.4 630.9,770.2 629.6,769.5 628.3,769.9 626.9,766.7 625.6,767.7 624.3,770.6 623.0,766.0 621.7,766.3 620.4,769.4 619.1,771.1 617.7,768.2 616.4,767.3 615.1,768.5 613.8,766.7 612.5,768.7 611.2,763.7 609.8,766.6 608.5,766.4 607.2,763.1 605.9,766.6 604.6,766.3 603.3,767.2 602.0,764.3 600.6,764.8 599.3,761.3 598.0,766.3 596.7,766.8 595.4,762.0 594.1,763.7 592.8,766.8 591.4,761.1 590.1,763.9 588.8,762.4 587.5,766.2 586.2,762.1 584.9,759.6 583.5,762.7 582.2,765.3 580.9,763.2 579.6,762.8 578.3,764.1 577.0,764.4 575.7,761.9 574.3,764.6 573.0,763.7 571.7,761.6 570.4,762.0 569.1,761.6 567.8,761.5 566.5,762.9 565.1,762.3 563.8,765.3 562.5,762.3 561.2,760.6 559.9,758.9 558.6,755.4 557.2,758.7 555.9,760.3 554.6,755.1 553.3,753.9 552.0,758.0 550.7,752.9 549.4,753.1 548.0,751.7 546.7,751.8 545.4,749.8 544.1,750.0 542.8,750.2 541.5,743.3 540.2,744.1 538.8,745.9 537.5,743.3 536.2,739.2 534.9,743.6 533.6,742.0 532.3,735.8 530.9,735.3 529.6,734.3 528.3,734.5 527.0,733.7 525.7,725.5 524.4,730.6 523.1,725.2 521.7,727.7 520.4,721.2 519.1,722.2 517.8,719.0 516.5,717.8 515.2,718.1 513.8,714.6 512.5,711.3 511.2,712.2 509.9,713.8 508.6,709.2 507.3,711.7 506.0,709.2 504.6,702.7 503.3,701.9 502.0,702.2 500.7,693.8 499.4,699.5 498.1,697.0 496.8,696.5 495.4,694.4 494.1,693.1 492.8,691.0 491.5,691.4 490.2,682.5 488.9,683.3 487.5,687.2 486.2,683.2 484.9,682.6 483.6,679.9 482.3,678.4 481.0,677.3 479.7,672.9 478.3,672.4 477.0,671.5 475.7,667.4 474.4,668.7 473.1,668.8 471.8,665.9 470.5,664.4 469.1,660.6 467.8,659.1 466.5,657.2 465.2,657.9 463.9,652.2 462.6,656.0 461.2,651.2 459.9,649.6 458.6,645.9 457.3,645.7 456.0,644.5 454.7,641.0 453.4,640.2 452.0,639.6 450.7,641.0 449.4,636.9 448.1,636.8 446.8,630.1 445.5,627.3 444.2,626.1 442.8,625.6 441.5,625.1 440.2,626.9 438.9,621.1 437.6,616.4 436.3,614.5 434.9,614.5 433.6,611.7 432.3,611.8 431.0,609.1 429.7,607.4 428.4,603.1 427.1,600.9 425.7,601.0 424.4,598.1 423.1,597.2 421.8,594.7 420.5,594.0 419.2,587.2 417.8,588.2 416.5,588.5 415.2,585.9 413.9,584.9 412.6,581.2 411.3,577.8 410.0,576.5 408.6,573.6 407.3,571.6 406.0,571.1 404.7,567.0 403.4,568.5 402.1,564.9 400.8,559.9 399.4,559.2 398.1,559.1 396.8,555.7 395.5,559.6 394.2,551.7 392.9,551.8 391.5,548.0 390.2,546.3 388.9,542.3 387.6,541.2 386.3,540.8 385.0,536.9 383.7,530.2 382.3,536.1 381.0,530.7 379.7,528.4 378.4,526.8 377.1,524.7 375.8,517.9 374.5,521.7 373.1,518.0 371.8,516.1 370.5,511.6 369.2,507.3 367.9,508.7 366.6,503.4 365.2,500.7 363.9,502.2 362.6,496.3 361.3,498.1 360.0,495.0 358.7,490.5 357.4,497.9 356.0,494.1 354.7,498.2 353.4,498.9 352.1,502.8 350.8,504.1 349.5,505.8 348.2,507.1 346.8,511.6 345.5,513.6 344.2,518.3 342.9,519.7 341.6,523.7 340.3,523.8 338.9,526.7 337.6,532.0 336.3,533.5 335.0,536.8 333.7,537.4 332.4,543.3 331.1,542.3 329.7,552.0 328.4,551.7 327.1,555.1 325.8,560.1 324.5,561.0 323.2,563.2 321.8,565.0 320.5,569.1 319.2,572.9 317.9,574.7 316.6,576.8 315.3,580.1 314.0,583.2 312.6,586.9 311.3,588.9 310.0,591.2 308.7,589.7 307.4,599.6 306.1,597.7 304.8,602.0 303.4,605.4 302.1,610.0 300.8,613.5 299.5,614.3 298.2,619.2 296.9,623.7 295.5,622.5 294.2,628.1 292.9,630.5 291.6,634.4 290.3,636.4 289.0,637.0 287.7,644.5 286.3,641.9 285.0,646.2 283.7,649.2 282.4,649.7 281.1,652.0 279.8,659.0 278.5,661.0 277.1,660.5 275.8,666.2 274.5,670.1 273.2,672.6 271.9,671.0 270.6,676.3 269.2,674.9 267.9,675.0 266.6,679.4 265.3,678.5 264.0,677.3 262.7,676.9 261.4,676.9 260.0,675.9 258.7,679.5 257.4,676.5 256.1,674.9 254.8,676.1 253.5,677.1 252.2,674.9 250.8,678.8 249.5,675.4 248.2,676.4 246.9,674.1 245.6,678.2 244.3,674.9 242.9,675.8 241.6,676.0 240.3,676.1 239.0,673.8" fill="#f08080" fill-opacity="0.2"/>
<polygon points="239.0,673.8 240.3,676.1 241.6,676.0 242.9,675.8 244.3,674.9 245.6,678.2 246.9,674.1 248.2,676.4 249.5,675.4 250.8,678.8 252.2,674.9 253.5,677.1 254.8,676.1 256.1,674.9 257.4,676.5 258.7,679.5 260.0,675.9 261.4,676.9 262.7,676.9 264.0,677.3 265.3,678.5 266.6,679.4 267.9,675.0 269.2,674.9 270.6,676.3 271.9,671.0 273.2,672.6 274.5,670.1 275.8,666.2 277.1,660.5 278.5,661.0 279.8,659.0 281.1,652.0 282.4,649.7 283.7,649.2 285.0,646.2 286.3,641.9 287.7,644.5 289.0,637.0 290.3,636.4 291.6,634.4 292.9,630.5 294.2,628.1 295.5,622.5 296.9,623.7 298.2,619.2 299.5,614.3 300.8,613.5 302.1,610.0 303.4,605.4 304.8,602.0 306.1,597.7 307.4,599.6 308.7,589.7 310.0,591.2 311.3,588.9 312.6,586.9 314.0,583.2 315.3,580.1 316.6,576.8 317.9,574.7 319.2,572.9 320.5,569.1 321.8,565.0 323.2,563.2 324.5,561.0 325.8,560.1 327.1,555.1 328.4,551.7 329.7,552.0 331.1,542.3 332.4,543.3 333.7,537.4 335.0,536.8 336.3,533.5 337.6,532.0 338.9,526.7 340.3,523.8 341.6,523.7 342.9,519.7 344.2,518.3 345.5,513.6 346.8,511.6 348.2,507.1 349.5,505.8 350.8,504.1 352.1,502.8 353.4,498.9 354.7,498.2 356.0,494.1 357.4,497.9 358.7,490.5 360.0,495.0 361.3,498.1 362.6,496.3 363.9,502.2 365.2,500.7 366.6,503.4 367.9,508.7 369.2,507.3 370.5,511.6 371.8,516.1 373.1,518.0 374.5,521.7 375.8,517.9 377.1,524.7 378.4,526.8 379.7,528.4 381.0,530.7 382.3,536.1 383.7,530.2 385.0,536.9 386.3,540.8 387.6,541.2 388.9,542.3 390.2,546.3 391.5,548.0 392.9,551.8 394.2,551.7 395.5,559.6 396.8,555.7 398.1,559.1 399.4,559.2 400.8,559.9 402.1,564.9 403.4,568.5 404.7,567.0 406.0,571.1 407.3,571.6 408.6,573.6 410.0,576.5 411.3,577.8 412.6,581.2 413.9,584.9 415.2,585.9 416.5,588.5 417.8,588.2 419.2,587.2 420.5,594.0 421.8,594.7 423.1,597.2 424.4,598.1 425.7,601.0 427.1,600.9 428.4,603.1 429.7,607.4 431.0,609.1 432.3,611.8 433.6,611.7 434.9,614.5 436.3,614.5 437.6,616.4 438.9,621.1 440.2,626.9 441.5,625.1 442.8,625.6 444.2,626.1 445.5,627.3 446.8,630.1 448.1,636.8 449.4,636.9 450.7,641.0 452.0,639.6 453.4,640.2 454.7,641.0 456.0,644.5 457.3,645.7 458.6,645.9 459.9,649.6 461.2,651.2 462.6,656.0 463.9,652.2 465.2,657.9 466.5,657.2 467.8,659.1 469.1,660.6 470.5,664.4 471.8,665.9 473.1,668.8 474.4,668.7 475.7,667.4 477.0,671.5 478.3,672.4 479.7,672.9 481.0,677.3 482.3,678.4 483.6,679.9 484.9,682.6 486.2,683.2 487.5,687.2 488.9,683.3 490.2,682.5 491.5,691.4 492.8,691.0 494.1,693.1 495.4,694.4 496.8,696.5 498.1,697.0 499.4,699.5 500.7,693.8 502.0,702.2 503.3,701.9 504.6,702.7 506.0,709.2 507.3,711.7 508.6,709.2 509.9,713.8 511.2,712.2 512.5,711.3 513.8,714.6 515.2,718.1 516.5,717.8 517.8,719.0 519.1,722.2 520.4,721.2 521.7,727.7 523.1,725.2 524.4,730.6 525.7,725.5 527.0,733.7 528.3,734.5 529.6,734.3 530.9,735.3 532.3,735.8 533.6,742.0 534.9,743.6 536.2,739.2 537.5,743.3 538.8,745.9 540.2,744.1 541.5,743.3 542.8,750.2 544.1,750.0 545.4,749.8 546.7,751.8 548.0,751.7 549.4,753.1 550.7,752.9 552.0,758.0 553.3,753.9 554.6,755.1 555.9,760.3 557.2,758.7 558.6,755.4 559.9,758.9 561.2,760.6 562.5,762.3 563.8,765.3 565.1,762.3 566.5,762.9 567.8,761.5 569.1,761.6 570.4,762.0 571.7,761.6 573.0,763.7 574.3,764.6 575.7,761.9 577.0,764.4 578.3,764.1 579.6,762.8 580.9,763.2 582.2,765.3 583.5,762.7 584.9,759.6 586.2,762.1 587.5,766.2 588.8,762.4 590.1,763.9 591.4,761.1 592.8,766.8 594.1,763.7 595.4,762.0 596.7,766.8 598.0,766.3 599.3,761.3 600.6,764.8 602.0,764.3 603.3,767.2 604.6,766.3 605.9,766.6 607.2,763.1 608.5,766.4 609.8,766.6 611.2,763.7 612.5,768.7 613.8,766.7 615.1,768.5 616.4,767.3 617.7,768.2 619.1,771.1 620.4,769.4 621.7,766.3 623.0,766.0 624.3,770.6 625.6,767.7 626.9,766.7 628.3,769.9 629.6,769.5 630.9,770.2 632.2,772.4 633.5,770.9 634.8,767.5 636.2,771.2 637.5,766.9 638.8,771.5 640.1,771.4 641.4,771.8 642.7,769.5 644.0,769.0 645.4,771.5 646.7,773.1 648.0,773.3 649.3,770.8 650.6,773.3 651.9,771.9 653.2,771.7 654.6,771.6 655.9,773.2 657.2,772.2 658.5,771.3 659.8,775.2 661.1,775.3 662.5,775.5 663.8,770.9 665.1,777.8 666.4,772.0 667.7,774.9 669.0,774.2 670.3,775.8 671.7,776.3 673.0,772.2 674.3,776.4 675.6,775.8 676.9,774.3 678.2,776.3 679.5,777.6 680.9,775.9 682.2,775.7 683.5,778.3 684.8,778.1 686.1,779.4 687.4,778.9 688.8,780.2 690.1,779.1 691.4,777.1 692.7,779.1 694.0,777.5 695.3,776.2 696.6,777.6 698.0,778.0 699.3,777.5 700.6,780.4 701.9,780.1 703.2,779.0 704.5,780.8 705.8,778.5 707.2,782.1 708.5,781.8 709.8,777.7 711.1,780.6 712.4,779.8 713.7,781.6 715.1,781.7 716.4,779.7 717.7,782.9 719.0,785.7 720.3,781.8 721.6,780.3 722.9,784.2 724.3,779.9 725.6,782.2 726.9,782.3 728.2,784.6 729.5,783.6 730.8,785.9 732.2,784.4 733.5,784.9 734.8,787.5 736.1,784.1 737.4,784.3 738.7,786.9 740.0,782.8 741.4,788.2 742.7,782.1 744.0,786.0 745.3,786.0 746.6,786.8 747.9,788.8 749.2,786.3 750.6,786.7 751.9,785.4 753.2,786.6 754.5,786.6 755.8,787.3 757.1,784.0 758.5,789.2 759.8,787.9 761.1,789.0 762.4,785.4 763.7,787.1 765.0,791.2 766.3,788.3 767.7,792.7 769.0,789.9 770.3,789.3 771.6,789.8 772.9,790.3 774.2,790.1 775.5,791.2 776.9,788.8 778.2,793.3 779.5,790.1 780.8,792.6 782.1,796.8 783.4,796.4 784.8,790.6 786.1,796.3 787.4,796.0 788.7,792.9 790.0,793.5 791.3,796.7 792.6,793.3 794.0,795.6 795.3,795.7 796.6,797.7 797.9,794.1 799.2,797.9 800.5,795.4 801.8,795.1 803.2,796.4 804.5,796.6 805.8,799.3 807.1,795.4 808.4,796.2 809.7,798.6 811.1,798.0 812.4,799.2 813.7,798.9 815.0,799.6 816.3,794.9 817.6,800.3 818.9,800.2 820.3,797.7 821.6,799.8 822.9,799.5 824.2,804.2 825.5,799.2 826.8,801.5 828.2,800.0 829.5,801.1 830.8,802.0 832.1,802.2 833.4,800.8 834.7,804.0 836.0,804.7 837.4,801.3 838.7,804.8 840.0,802.7 841.3,800.0 842.6,804.6 843.9,805.4 845.2,802.7 846.6,808.6 847.9,808.2 849.2,807.7 850.5,808.3 851.8,807.1 853.1,808.9 854.5,806.8 855.8,806.8 857.1,807.8 858.4,809.2 859.7,808.1 861.0,809.1 862.3,809.7 863.7,809.4 865.0,810.8 866.3,811.3 867.6,808.5 868.9,813.2 870.2,811.5 871.5,808.2 872.9,808.5 874.2,808.8 875.5,810.6 876.8,811.9 878.1,810.5 879.4,810.2 880.8,812.0 882.1,812.4 883.4,812.6 884.7,814.0 886.0,812.5 887.3,811.8 888.6,815.2 890.0,812.1 891.3,818.6 892.6,815.0 893.9,813.0 895.2,813.7 896.5,815.3 897.8,814.9 899.2,816.3 900.5,814.9 901.8,816.9 903.1,815.5 904.4,816.7 905.7,813.3 907.1,816.2 908.4,814.7 909.7,820.7 911.0,815.0 912.3,817.9 913.6,818.8 914.9,821.3 916.3,820.9 917.6,817.6 918.9,817.8 920.2,817.7 921.5,819.5 922.8,819.5 924.2,823.0 925.5,823.6 926.8,819.3 928.1,819.5 929.4,824.9 930.7,818.3 932.0,821.9 933.4,820.9 934.7,824.7 936.0,822.1 937.3,822.8 938.6,825.0 939.9,823.0 941.2,823.6 942.6,824.0 943.9,823.7 945.2,824.1 946.5,824.3 947.8,821.2 949.1,826.3 950.5,827.7 951.8,828.3 953.1,824.0 954.4,827.1 955.7,828.8 957.0,829.7 958.3,826.3 959.7,827.4 961.0,827.1 962.3,826.0 963.6,827.7 964.9,828.1 966.2,829.4 967.5,827.2 968.9,828.5 970.2,832.4 971.5,831.9 972.8,831.5 974.1,832.7 975.4,829.9 976.8,832.4 978.1,832.3 979.4,830.7 980.7,831.8 982.0,830.2 983.3,830.5 984.6,832.3 986.0,834.1 987.3,829.4 988.6,833.3 989.9,833.3 991.2,832.5 992.5,835.7 993.8,833.5 995.2,835.0 996.5,839.1 997.8,835.7 999.1,833.6 1000.4,834.8 1001.7,835.1 1003.1,837.4 1004.4,840.3 1005.7,836.5 1007.0,836.7 1008.3,835.8 1009.6,837.1 1010.9,839.6 1012.3,835.6 1013.6,839.4 1014.9,838.5 1016.2,839.8 1017.5,839.0 1018.8,837.6 1020.2,836.3 1021.5,833.0 1022.8,841.2 1024.1,839.8 1025.4,841.5 1026.7,840.5 1028.0,840.9 1029.4,840.0 1030.7,841.8 1032.0,839.8 1033.3,840.6 1034.6,841.6 1035.9,840.8 1037.2,839.0 1038.6,841.7 1039.9,839.9 1041.2,840.2 1042.5,846.3 1043.8,846.8 1045.1,841.9 1046.5,845.7 1047.8,843.6 1049.1,845.5 1050.4,848.2 1051.7,845.0 1053.0,842.6 1054.3,846.8 1055.7,846.7 1057.0,845.0 1058.3,843.7 1059.6,843.8 1060.9,845.1 1062.2,844.5 1063.5,844.2 1064.9,845.8 1066.2,849.4 1067.5,844.0 1068.8,845.1 1070.1,846.0 1071.4,846.4 1072.8,847.7 1074.1,847.8 1075.4,846.7 1076.7,848.0 1078.0,848.5 1079.3,846.1 1080.6,842.4 1082.0,849.0 1083.3,849.1 1084.6,848.8 1085.9,847.5 1087.2,847.1 1088.5,849.6 1089.8,851.9 1091.2,852.0 1092.5,850.3 1093.8,848.5 1095.1,852.3 1096.4,851.1 1097.7,851.2 1099.1,849.3 1100.4,851.0 1101.7,851.8 1103.0,853.8 1104.3,852.2 1105.6,853.9 1106.9,851.7 1108.3,851.0 1109.6,852.3 1110.9,848.1 1112.2,852.2 1113.5,854.3 1114.8,852.5 1116.2,854.6 1117.5,853.3 1118.8,855.6 1120.1,853.5 1121.4,854.9 1122.7,857.7 1124.0,854.4 1125.4,852.0 1126.7,854.7 1128.0,856.4 1129.3,856.5 1130.6,856.3 1131.9,855.4 1133.2,854.1 1134.6,857.9 1135.9,856.6 1137.2,857.2 1138.5,857.2 1139.8,856.6 1141.1,856.5 1142.5,859.2 1143.8,858.8 1145.1,861.6 1146.4,859.0 1147.7,859.5 1149.0,859.0 1150.3,859.7 1151.7,862.8 1153.0,861.8 1154.3,863.2 1155.6,862.1 1156.9,861.7 1158.2,860.5 1159.5,860.9 1160.9,859.3 1162.2,862.0 1163.5,862.5 1164.8,860.4 1166.1,861.1 1167.4,865.5 1168.8,861.7 1170.1,864.0 1171.4,865.9 1172.7,864.3 1174.0,860.3 1175.3,864.1 1176.6,865.7 1178.0,862.0 1179.3,863.8 1180.6,867.2 1181.9,864.3 1183.2,863.6 1184.5,864.4 1185.8,864.5 1187.2,863.8 1188.5,861.0 1189.8,867.6 1191.1,866.4 1192.4,867.8 1193.7,870.8 1195.1,865.0 1196.4,863.5 1197.7,868.6 1199.0,867.4 1200.3,870.1 1201.6,864.4 1202.9,868.2 1204.3,869.2 1205.6,865.3 1206.9,865.4 1208.2,870.3 1209.5,867.7 1210.8,867.5 1212.2,868.9 1213.5,869.4 1214.8,869.7 1216.1,868.9 1217.4,870.7 1218.7,869.5 1220.0,871.8 1221.4,869.8 1222.7,865.4 1224.0,870.7 1225.3,868.5 1226.6,867.8 1227.9,870.6 1229.2,868.5 1230.6,864.3 1231.9,869.7 1233.2,863.3 1234.5,870.4 1235.8,868.4 1237.1,869.7 1238.5,871.4 1239.8,867.2 1241.1,871.5 1242.4,869.3 1243.7,868.8 1245.0,863.7 1246.3,868.4 1247.7,868.3 1249.0,872.3 1250.3,870.6 1251.6,869.0 1252.9,869.3 1254.2,869.1 1255.5,868.0 1256.9,871.4 1258.2,869.2 1259.5,875.0 1260.8,873.8 1262.1,867.6 1263.4,871.0 1264.8,873.0 1266.1,871.7 1267.4,871.3 1268.7,873.3 1270.0,871.0 1271.3,869.7 1272.6,868.3 1274.0,872.7 1275.3,871.7 1276.6,874.7 1277.9,871.8 1279.2,872.1 1280.5,869.5 1281.8,872.5 1283.2,874.5 1284.5,872.1 1285.8,873.8 1287.1,875.4 1288.4,874.9 1289.7,872.5 1291.1,871.8 1292.4,874.0 1293.7,876.4 1295.0,874.1 1296.3,873.3 1297.6,873.9 1298.9,876.2 1300.3,876.7 1301.6,872.3 1302.9,875.0 1304.2,873.4 1305.5,873.2 1306.8,873.8 1308.2,873.8 1309.5,874.4 1310.8,875.8 1312.1,875.4 1313.4,875.6 1314.7,869.2 1316.0,875.3 1317.4,871.6 1318.7,874.4 1320.0,876.0 1321.3,872.6 1322.6,875.4 1323.9,878.2 1325.2,874.1 1326.6,873.3 1327.9,872.2 1329.2,876.9 1330.5,878.0 1331.8,877.1 1333.1,874.6 1334.5,874.4 1335.8,874.4 1337.1,879.4 1338.4,873.9 1339.7,872.3 1341.0,867.5 1342.3,874.6 1343.7,875.2 1345.0,871.5 1346.3,874.1 1347.6,878.2 1348.9,874.6 1350.2,875.3 1351.5,870.1 1352.9,873.9 1354.2,878.4 1355.5,874.9 1356.8,876.1 1358.1,875.3 1359.4,877.6 1360.8,874.4 1362.1,877.7 1363.4,876.0 1364.7,872.7 1366.0,871.3 1367.3,871.2 1368.6,875.8 1370.0,868.0 1371.3,872.7 1372.6,874.3 1373.9,873.4 1375.2,872.0 1376.5,878.4 1377.8,872.6 1379.2,874.6 1380.5,879.0 1381.8,874.9 1383.1,875.0 1384.4,874.1 1385.7,868.0 1387.1,875.5 1388.4,875.0 1389.7,877.5 1391.0,872.9 1392.3,869.7 1393.6,874.1 1394.9,872.8 1396.3,872.4 1397.6,871.4 1398.9,864.2 1400.2,875.3 1401.5,874.2 1402.8,870.4 1404.2,872.2 1405.5,869.0 1406.8,869.6 1408.1,868.2 1409.4,867.5 1410.7,872.4 1412.0,872.9 1413.4,871.6 1414.7,874.0 1416.0,872.4 1417.3,871.6 1418.6,872.3 1419.9,868.8 1421.2,873.7 1422.6,873.3 1423.9,875.0 1425.2,862.4 1426.5,874.0 1427.8,871.8 1429.1,871.3 1430.5,871.6 1431.8,871.8 1433.1,871.0 1434.4,874.3 1435.7,864.3 1437.0,877.2 1438.3,875.0 1439.7,873.0 1441.0,871.0 1442.3,871.7 1443.6,871.7 1444.9,871.9 1446.2,871.1 1447.5,870.5 1448.9,874.1 1450.2,869.7 1451.5,877.1 1452.8,867.7 1454.1,869.1 1455.4,871.6 1456.8,876.1 1458.1,866.8 1459.4,869.9 1460.7,870.6 1462.0,869.1 1463.3,863.5 1464.6,872.6 1466.0,870.3 1467.3,860.7 1468.6,864.9 1469.9,866.9 1471.2,867.5 1472.5,866.9 1473.8,866.7 1475.2,869.0 1476.5,868.6 1477.8,863.0 1479.1,864.6 1480.4,867.2 1481.7,863.0 1483.1,863.4 1484.4,862.0 1485.7,861.3 1487.0,868.3 1488.3,866.3 1489.6,861.0 1490.9,865.0 1492.3,867.2 1493.6,860.8 1494.9,862.4 1496.2,861.5 1497.5,858.1 1498.8,856.7 1500.2,861.6 1501.5,864.6 1502.8,857.4 1504.1,859.9 1505.4,861.6 1506.7,856.3 1508.0,860.1 1509.4,856.9 1510.7,854.9 1512.0,859.5 1513.3,858.2 1514.6,854.0 1515.9,857.8 1517.2,852.2 1518.6,848.5 1519.9,848.6 1521.2,857.0 1522.5,853.1 1523.8,852.1 1525.1,855.0 1526.5,855.9 1527.8,855.8 1529.1,852.1 1530.4,850.5 1531.7,852.5 1533.0,848.1 1534.3,847.3 1535.7,856.8 1537.0,852.7 1538.3,847.3 1539.6,852.0 1540.9,853.3 1542.2,845.3 1543.5,850.7 1544.9,841.3 1546.2,856.0 1547.5,847.2 1548.8,847.7 1550.1,850.8 1551.4,848.3 1552.8,851.9 1554.1,853.1 1555.4,849.9 1556.7,852.2 1558.0,846.8 1559.3,850.0 1560.6,851.3 1562.0,847.7 1563.3,846.7 1564.6,851.1 1565.9,842.3 1567.2,848.3 1568.5,843.3 1569.8,848.7 1571.2,844.0 1572.5,843.5 1573.8,847.4 1575.1,847.6 1576.4,843.4 1577.7,841.9 1579.1,851.0 1580.4,844.9 1581.7,847.7 1583.0,847.3 1584.3,846.1 1585.6,840.0 1586.9,841.4 1588.3,844.2 1589.6,841.2 1590.9,843.6 1592.2,841.8 1593.5,839.5 1594.8,843.1 1596.2,836.7 1597.5,832.6 1598.8,838.2 1600.1,837.1 1601.4,838.6 1602.7,833.2 1604.0,838.3 1605.4,840.4 1606.7,839.0 1608.0,844.3 1609.3,838.5 1610.6,840.8 1611.9,840.2 1613.2,840.6 1614.6,835.8 1615.9,831.7 1617.2,832.8 1618.5,835.0 1619.8,835.3 1621.1,836.6 1622.5,834.8 1623.8,828.4 1625.1,830.8 1626.4,839.8 1627.7,831.6 1629.0,833.6 1630.3,828.4 1631.7,837.0 1633.0,834.3 1634.3,833.2 1635.6,828.3 1636.9,832.8 1638.2,832.4 1639.5,831.7 1640.9,834.5 1642.2,830.8 1643.5,829.3 1644.8,836.3 1646.1,830.3 1647.4,836.0 1648.8,820.4 1650.1,822.8 1651.4,835.3 1652.7,827.8 1654.0,825.4 1655.3,825.7 1656.6,829.6 1658.0,828.3 1659.0,826.1 1659.0,954.6 1658.0,954.6 1656.6,954.6 1655.3,954.6 1654.0,954.6 1652.7,954.6 1651.4,954.6 1650.1,954.6 1648.8,954.6 1647.4,954.6 1646.1,954.6 1644.8,954.6 1643.5,954.6 1642.2,954.6 1640.9,954.6 1639.5,954.6 1638.2,954.6 1636.9,954.6 1635.6,954.6 1634.3,954.6 1633.0,954.6 1631.7,954.6 1630.3,954.6 1629.0,954.6 1627.7,954.6 1626.4,954.6 1625.1,954.6 1623.8,954.6 1622.5,954.6 1621.1,954.6 1619.8,954.6 1618.5,954.6 1617.2,954.6 1615.9,954.6 1614.6,954.6 1613.2,954.6 1611.9,954.6 1610.6,954.6 1609.3,954.6 1608.0,954.6 1606.7,954.6 1605.4,954.6 1604.0,954.6 1602.7,954.6 1601.4,954.6 1600.1,954.6 1598.8,954.6 1597.5,954.6 1596.2,954.6 1594.8,954.6 1593.5,954.6 1592.2,954.6 1590.9,954.6 1589.6,954.6 1588.3,954.6 1586.9,954.6 1585.6,954.6 1584.3,954.6 1583.0,954.6 1581.7,954.6 1580.4,954.6 1579.1,954.6 1577.7,954.6 1576.4,954.6 1575.1,954.6 1573.8,954.6 1572.5,954.6 1571.2,954.6 1569.8,954.6 1568.5,954.6 1567.2,954.6 1565.9,954.6 1564.6,954.6 1563.3,954.6 1562.0,954.6 1560.6,954.6 1559.3,954.6 1558.0,954.6 1556.7,954.6 1555.4,954.6 1554.1,954.6 1552.8,954.6 1551.4,954.6 1550.1,954.6 1548.8,954.6 1547.5,954.6 1546.2,954.6 1544.9,954.6 1543.5,954.6 1542.2,954.6 1540.9,954.6 1539.6,954.6 1538.3,954.6 1537.0,954.6 1535.7,954.6 1534.3,954.6 1533.0,954.6 1531.7,954.6 1530.4,954.6 1529.1,954.6 1527.8,954.6 1526.5,954.6 1525.1,954.6 1523.8,954.6 1522.5,954.6 1521.2,954.6 1519.9,954.6 1518.6,954.6 1517.2,954.6 1515.9,954.6 1514.6,954.6 1513.3,954.6 1512.0,954.6 1510.7,954.6 1509.4,954.6 1508.0,954.6 1506.7,954.6 1505.4,954.6 1504.1,954.6 1502.8,954.6 1501.5,954.6 1500.2,954.6 1498.8,954.6 1497.5,954.6 1496.2,954.6 1494.9,954.6 1493.6,954.6 1492.3,954.6 1490.9,954.6 1489.6,954.6 1488.3,954.6 1487.0,954.6 1485.7,954.6 1484.4,954.6 1483.1,954.6 1481.7,954.6 1480.4,954.6 1479.1,954.6 1477.8,954.6 1476.5,954.6 1475.2,954.6 1473.8,954.6 1472.5,954.6 1471.2,954.6 1469.9,954.6 1468.6,954.6 1467.3,954.6 1466.0,954.6 1464.6,954.6 1463.3,954.6 1462.0,954.6 1460.7,954.6 1459.4,954.6 1458.1,954.6 1456.8,954.6 1455.4,954.6 1454.1,954.6 1452.8,954.6 1451.5,954.6 1450.2,954.6 1448.9,954.6 1447.5,954.6 1446.2,954.6 1444.9,954.6 1443.6,954.6 1442.3,954.6 1441.0,954.6 1439.7,954.6 1438.3,954.6 1437.0,954.6 1435.7,954.6 1434.4,954.6 1433.1,954.6 1431.8,954.6 1430.5,954.6 1429.1,954.6 1427.8,954.6 1426.5,954.6 1425.2,954.6 1423.9,954.6 1422.6,954.6 1421.2,954.6 1419.9,954.6 1418.6,954.6 1417.3,954.6 1416.0,954.6 1414.7,954.6 1413.4,954.6 1412.0,954.6 1410.7,954.6 1409.4,954.6 1408.1,954.6 1406.8,954.6 1405.5,954.6 1404.2,954.6 1402.8,954.6 1401.5,954.6 1400.2,954.6 1398.9,954.6 1397.6,954.6 1396.3,954.6 1394.9,954.6 1393.6,954.6 1392.3,954.6 1391.0,954.6 1389.7,954.6 1388.4,954.6 1387.1,954.6 1385.7,954.6 1384.4,954.6 1383.1,954.6 1381.8,954.6 1380.5,954.6 1379.2,954.6 1377.8,954.6 1376.5,954.6 1375.2,954.6 1373.9,954.6 1372.6,954.6 1371.3,954.6 1370.0,954.6 1368.6,954.6 1367.3,954.6 1366.0,954.6 1364.7,954.6 1363.4,954.6 1362.1,954.6 1360.8,954.6 1359.4,954.6 1358.1,954.6 1356.8,954.6 1355.5,954.6 1354.2,954.6 1352.9,954.6 1351.5,954.6 1350.2,954.6 1348.9,954.6 1347.6,954.6 1346.3,954.6 1345.0,954.6 1343.7,954.6 1342.3,954.6 1341.0,954.6 1339.7,954.6 1338.4,954.6 1337.1,954.6 1335.8,954.6 1334.5,954.6 1333.1,954.6 1331.8,954.6 1330.5,954.6 1329.2,954.6 1327.9,954.6 1326.6,954.6 1325.2,954.6 1323.9,954.6 1322.6,954.6 1321.3,954.6 1320.0,954.6 1318.7,954.6 1317.4,954.6 1316.0,954.6 1314.7,954.6 1313.4,954.6 1312.1,954.6 1310.8,954.6 1309.5,954.6 1308.2,954.6 1306.8,954.6 1305.5,954.6 1304.2,954.6 1302.9,953.9 1301.6,954.6 1300.3,954.6 1298.9,954.6 1297.6,954.6 1296.3,954.6 1295.0,954.6 1293.7,954.6 1292.4,954.6 1291.1,954.6 1289.7,954.6 1288.4,954.6 1287.1,954.6 1285.8,954.6 1284.5,954.2 1283.2,953.6 1281.8,954.6 1280.5,952.7 1279.2,951.8 1277.9,951.8 1276.6,954.6 1275.3,951.7 1274.0,952.5 1272.6,954.5 1271.3,954.6 1270.0,953.9 1268.7,951.9 1267.4,952.7 1266.1,949.4 1264.8,952.2 1263.4,950.3 1262.1,947.9 1260.8,953.4 1259.5,950.8 1258.2,952.8 1256.9,948.8 1255.5,951.2 1254.2,946.5 1252.9,948.1 1251.6,946.3 1250.3,952.6 1249.0,945.9 1247.7,946.4 1246.3,948.0 1245.0,945.5 1243.7,945.6 1242.4,946.9 1241.1,953.0 1239.8,948.1 1238.5,944.0 1237.1,943.9 1235.8,947.4 1234.5,941.9 1233.2,944.9 1231.9,943.3 1230.6,950.0 1229.2,940.9 1227.9,949.5 1226.6,944.5 1225.3,942.8 1224.0,945.2 1222.7,944.3 1221.4,941.6 1220.0,941.4 1218.7,943.4 1217.4,945.9 1216.1,941.2 1214.8,940.9 1213.5,942.3 1212.2,938.7 1210.8,944.0 1209.5,945.8 1208.2,935.5 1206.9,939.7 1205.6,941.3 1204.3,940.1 1202.9,935.9 1201.6,942.6 1200.3,941.3 1199.0,938.4 1197.7,939.7 1196.4,935.5 1195.1,936.6 1193.7,937.8 1192.4,937.6 1191.1,935.2 1189.8,942.6 1188.5,938.2 1187.2,935.8 1185.8,934.8 1184.5,937.3 1183.2,933.9 1181.9,935.7 1180.6,935.6 1179.3,937.2 1178.0,937.3 1176.6,935.5 1175.3,932.1 1174.0,931.4 1172.7,937.2 1171.4,932.4 1170.1,932.9 1168.8,932.7 1167.4,934.9 1166.1,929.9 1164.8,930.0 1163.5,931.3 1162.2,930.1 1160.9,930.2 1159.5,930.8 1158.2,931.8 1156.9,936.1 1155.6,931.6 1154.3,933.6 1153.0,933.6 1151.7,929.5 1150.3,934.3 1149.0,927.9 1147.7,931.6 1146.4,931.2 1145.1,931.1 1143.8,930.6 1142.5,930.2 1141.1,929.6 1139.8,927.4 1138.5,929.4 1137.2,929.1 1135.9,928.9 1134.6,932.3 1133.2,929.7 1131.9,928.6 1130.6,923.2 1129.3,929.6 1128.0,928.5 1126.7,927.3 1125.4,926.8 1124.0,923.5 1122.7,926.1 1121.4,927.1 1120.1,923.4 1118.8,924.8 1117.5,926.1 1116.2,923.5 1114.8,927.1 1113.5,923.0 1112.2,925.3 1110.9,922.0 1109.6,923.5 1108.3,923.7 1106.9,925.5 1105.6,918.6 1104.3,923.3 1103.0,927.0 1101.7,924.6 1100.4,923.2 1099.1,921.9 1097.7,923.8 1096.4,921.0 1095.1,920.0 1093.8,919.7 1092.5,921.7 1091.2,918.0 1089.8,921.7 1088.5,920.0 1087.2,916.7 1085.9,918.2 1084.6,920.5 1083.3,917.9 1082.0,922.6 1080.6,920.7 1079.3,918.8 1078.0,916.5 1076.7,916.1 1075.4,921.3 1074.1,914.5 1072.8,917.3 1071.4,915.9 1070.1,921.3 1068.8,918.3 1067.5,918.7 1066.2,915.4 1064.9,919.7 1063.5,916.6 1062.2,918.8 1060.9,917.2 1059.6,915.4 1058.3,917.7 1057.0,919.2 1055.7,914.2 1054.3,916.1 1053.0,917.6 1051.7,913.8 1050.4,914.5 1049.1,916.3 1047.8,918.5 1046.5,913.6 1045.1,913.4 1043.8,913.5 1042.5,912.0 1041.2,913.9 1039.9,914.2 1038.6,913.8 1037.2,912.1 1035.9,909.6 1034.6,910.4 1033.3,912.4 1032.0,907.5 1030.7,909.1 1029.4,910.7 1028.0,910.8 1026.7,911.1 1025.4,909.5 1024.1,913.9 1022.8,912.5 1021.5,907.1 1020.2,909.8 1018.8,908.5 1017.5,909.5 1016.2,906.6 1014.9,908.8 1013.6,910.1 1012.3,906.0 1010.9,908.6 1009.6,911.8 1008.3,908.2 1007.0,906.8 1005.7,907.3 1004.4,906.7 1003.1,910.6 1001.7,903.6 1000.4,907.8 999.1,907.1 997.8,903.3 996.5,905.4 995.2,907.6 993.8,903.9 992.5,905.2 991.2,905.8 989.9,907.9 988.6,902.4 987.3,903.9 986.0,904.1 984.6,903.1 983.3,906.7 982.0,904.2 980.7,903.1 979.4,902.9 978.1,898.1 976.8,901.1 975.4,903.1 974.1,900.8 972.8,901.5 971.5,898.6 970.2,901.6 968.9,902.1 967.5,903.2 966.2,901.4 964.9,897.1 963.6,903.0 962.3,897.5 961.0,898.4 959.7,899.8 958.3,897.5 957.0,897.2 955.7,897.1 954.4,896.4 953.1,903.1 951.8,899.1 950.5,900.3 949.1,894.8 947.8,894.4 946.5,897.3 945.2,895.6 943.9,896.5 942.6,898.8 941.2,895.4 939.9,895.3 938.6,892.2 937.3,894.1 936.0,890.9 934.7,889.6 933.4,892.8 932.0,891.9 930.7,896.3 929.4,893.9 928.1,892.2 926.8,896.0 925.5,896.7 924.2,891.8 922.8,888.8 921.5,891.7 920.2,895.0 918.9,891.1 917.6,891.5 916.3,892.3 914.9,889.7 913.6,889.3 912.3,890.1 911.0,890.3 909.7,889.4 908.4,887.5 907.1,889.8 905.7,888.9 904.4,887.6 903.1,887.1 901.8,887.9 900.5,888.1 899.2,884.9 897.8,891.6 896.5,885.4 895.2,888.5 893.9,887.9 892.6,884.8 891.3,884.9 890.0,888.4 888.6,883.9 887.3,885.3 886.0,885.8 884.7,886.5 883.4,882.0 882.1,882.1 880.8,880.9 879.4,880.3 878.1,880.4 876.8,882.2 875.5,885.3 874.2,882.6 872.9,882.0 871.5,881.8 870.2,882.1 868.9,881.4 867.6,880.4 866.3,885.3 865.0,880.9 863.7,878.1 862.3,879.9 861.0,883.0 859.7,879.8 858.4,878.3 857.1,882.1 855.8,877.6 854.5,878.5 853.1,874.8 851.8,877.3 850.5,880.7 849.2,876.3 847.9,876.0 846.6,876.1 845.2,875.9 843.9,874.2 842.6,876.2 841.3,875.0 840.0,874.5 838.7,874.2 837.4,874.5 836.0,872.2 834.7,874.8 833.4,874.8 832.1,874.5 830.8,873.3 829.5,873.0 828.2,875.0 826.8,875.4 825.5,875.8 824.2,869.9 822.9,872.8 821.6,870.1 820.3,872.1 818.9,872.0 817.6,874.2 816.3,871.9 815.0,870.4 813.7,869.9 812.4,870.0 811.1,870.4 809.7,869.0 808.4,868.2 807.1,868.5 805.8,866.8 804.5,870.5 803.2,867.4 801.8,866.9 800.5,868.2 799.2,865.3 797.9,865.2 796.6,865.7 795.3,864.6 794.0,866.1 792.6,865.2 791.3,868.0 790.0,865.9 788.7,865.9 787.4,869.1 786.1,862.7 784.8,860.7 783.4,862.4 782.1,864.9 780.8,862.7 779.5,864.8 778.2,860.1 776.9,860.4 775.5,864.0 774.2,863.4 772.9,860.2 771.6,863.3 770.3,860.6 769.0,859.8 767.7,865.8 766.3,862.8 765.0,861.6 763.7,860.0 762.4,862.6 761.1,858.5 759.8,856.4 758.5,858.5 757.1,858.7 755.8,859.3 754.5,856.4 753.2,858.3 751.9,857.0 750.6,855.4 749.2,860.6 747.9,858.1 746.6,855.4 745.3,855.0 744.0,856.7 742.7,857.8 741.4,855.5 740.0,854.9 738.7,855.1 737.4,855.2 736.1,855.1 734.8,852.2 733.5,860.0 732.2,854.1 730.8,854.0 729.5,855.4 728.2,851.3 726.9,855.9 725.6,855.4 724.3,855.1 722.9,853.4 721.6,854.0 720.3,851.1 719.0,854.8 717.7,852.6 716.4,854.5 715.1,855.7 713.7,854.0 712.4,853.3 711.1,851.1 709.8,851.8 708.5,852.7 707.2,855.0 705.8,852.8 704.5,850.4 703.2,851.0 701.9,848.9 700.6,851.5 699.3,851.7 698.0,849.3 696.6,850.3 695.3,851.5 694.0,849.0 692.7,850.0 691.4,850.0 690.1,851.8 688.8,848.2 687.4,851.5 686.1,847.7 684.8,853.1 683.5,852.0 682.2,845.0 680.9,847.8 679.5,846.3 678.2,844.3 676.9,846.9 675.6,844.9 674.3,846.6 673.0,844.6 671.7,848.9 670.3,843.5 669.0,843.3 667.7,843.6 666.4,843.4 665.1,847.5 663.8,846.7 662.5,844.0 661.1,843.6 659.8,841.2 658.5,843.3 657.2,846.7 655.9,840.5 654.6,840.6 653.2,843.9 651.9,844.6 650.6,848.0 649.3,843.4 648.0,842.7 646.7,841.7 645.4,842.8 644.0,842.8 642.7,843.3 641.4,842.9 640.1,839.9 638.8,841.4 637.5,840.9 636.2,839.5 634.8,841.0 633.5,839.3 632.2,841.8 630.9,841.7 629.6,843.3 628.3,840.5 626.9,839.7 625.6,840.0 624.3,843.1 623.0,842.3 621.7,840.6 620.4,840.7 619.1,838.8 617.7,840.1 616.4,838.6 615.1,835.6 613.8,835.1 612.5,838.4 611.2,837.5 609.8,839.7 608.5,838.1 607.2,836.1 605.9,837.5 604.6,835.5 603.3,839.8 602.0,834.7 600.6,840.1 599.3,838.7 598.0,834.1 596.7,835.8 595.4,836.7 594.1,835.5 592.8,834.3 591.4,834.4 590.1,835.4 588.8,837.2 587.5,835.0 586.2,835.2 584.9,834.6 583.5,832.8 582.2,834.1 580.9,834.5 579.6,835.5 578.3,834.4 577.0,832.8 575.7,832.7 574.3,835.1 573.0,836.6 571.7,831.7 570.4,834.5 569.1,829.3 567.8,831.9 566.5,833.4 565.1,834.3 563.8,833.6 562.5,836.6 561.2,831.9 559.9,838.2 558.6,828.5 557.2,833.2 555.9,832.6 554.6,828.2 553.3,828.3 552.0,825.9 550.7,824.6 549.4,827.1 548.0,821.5 546.7,822.1 545.4,820.2 544.1,818.8 542.8,822.9 541.5,819.2 540.2,818.3 538.8,815.4 537.5,815.2 536.2,815.5 534.9,814.4 533.6,812.6 532.3,813.8 530.9,808.7 529.6,808.1 528.3,807.0 527.0,806.7 525.7,804.1 524.4,806.0 523.1,800.4 521.7,801.1 520.4,801.6 519.1,800.9 517.8,793.8 516.5,796.4 515.2,789.0 513.8,792.4 512.5,790.9 511.2,786.9 509.9,783.2 508.6,786.2 507.3,783.8 506.0,779.0 504.6,776.1 503.3,777.2 502.0,776.8 500.7,774.5 499.4,770.4 498.1,770.9 496.8,767.1 495.4,767.1 494.1,764.5 492.8,766.5 491.5,761.8 490.2,760.7 488.9,757.0 487.5,755.7 486.2,754.7 484.9,754.3 483.6,752.1 482.3,751.3 481.0,747.1 479.7,742.2 478.3,747.8 477.0,740.8 475.7,742.4 474.4,737.6 473.1,735.8 471.8,732.0 470.5,732.1 469.1,731.1 467.8,726.3 466.5,725.2 465.2,727.4 463.9,724.2 462.6,725.8 461.2,721.2 459.9,723.8 458.6,715.4 457.3,713.1 456.0,713.4 454.7,713.5 453.4,710.2 452.0,705.1 450.7,701.2 449.4,708.2 448.1,703.4 446.8,700.2 445.5,700.3 444.2,697.7 442.8,694.9 441.5,693.2 440.2,692.7 438.9,686.5 437.6,682.7 436.3,682.2 434.9,679.6 433.6,681.1 432.3,675.4 431.0,680.4 429.7,673.0 428.4,670.8 427.1,670.3 425.7,665.6 424.4,663.7 423.1,661.1 421.8,660.3 420.5,658.8 419.2,651.3 417.8,653.0 416.5,651.0 415.2,650.8 413.9,647.6 412.6,646.9 411.3,642.1 410.0,643.9 408.6,640.8 407.3,637.9 406.0,636.5 404.7,631.4 403.4,628.8 402.1,628.2 400.8,626.9 399.4,627.9 398.1,621.1 396.8,623.0 395.5,620.4 394.2,619.9 392.9,620.1 391.5,613.3 390.2,614.8 388.9,611.3 387.6,610.9 386.3,604.0 385.0,602.4 383.7,604.0 382.3,601.9 381.0,598.8 379.7,599.3 378.4,593.6 377.1,593.2 375.8,590.5 374.5,583.4 373.1,585.8 371.8,580.0 370.5,582.4 369.2,577.0 367.9,578.3 366.6,574.4 365.2,574.1 363.9,567.2 362.6,569.0 361.3,563.8 360.0,565.6 358.7,565.7 357.4,563.2 356.0,567.4 354.7,567.9 353.4,567.9 352.1,573.4 350.8,575.5 349.5,576.3 348.2,583.1 346.8,583.0 345.5,585.7 344.2,590.6 342.9,593.2 341.6,596.0 340.3,599.4 338.9,599.1 337.6,601.1 336.3,603.9 335.0,610.8 333.7,610.8 332.4,613.6 331.1,614.1 329.7,617.5 328.4,618.9 327.1,624.8 325.8,626.9 324.5,632.3 323.2,637.1 321.8,638.2 320.5,644.5 319.2,641.4 317.9,649.3 316.6,646.0 315.3,648.6 314.0,659.9 312.6,662.0 311.3,660.8 310.0,664.9 308.7,668.2 307.4,673.2 306.1,671.1 304.8,675.3 303.4,676.9 302.1,683.7 300.8,683.5 299.5,689.2 298.2,689.8 296.9,697.3 295.5,692.9 294.2,696.6 292.9,697.3 291.6,703.5 290.3,704.5 289.0,709.5 287.7,710.2 286.3,717.6 285.0,716.5 283.7,716.1 282.4,722.7 281.1,728.0 279.8,731.3 278.5,731.9 277.1,732.0 275.8,737.1 274.5,735.5 273.2,742.9 271.9,745.0 270.6,748.5 269.2,748.8 267.9,748.2 266.6,749.6 265.3,748.5 264.0,753.6 262.7,749.2 261.4,745.2 260.0,746.3 258.7,750.8 257.4,749.4 256.1,746.4 254.8,749.2 253.5,750.9 252.2,745.2 250.8,747.3 249.5,745.3 248.2,753.6 246.9,746.6 245.6,749.3 244.3,748.9 242.9,749.6 241.6,747.0 240.3,749.0 239.0,748.2" fill="#add8e6" fill-opacity="0.2"/>
<g opacity="0.92" fill="none" stroke="#4a67ee" stroke-width="6.8" stroke-linejoin="round" stroke-linecap="round">
<polyline stroke-width="6.29" points="239.0,714.8 240.3,712.9 241.6,710.6 242.9,712.9 244.3,714.9 245.6,714.9 246.9,714.9 248.2,714.9 249.5,713.0 250.8,710.8 252.2,713.1 253.5,715.0 254.8,715.0 256.1,715.1 257.4,715.1 258.7,713.2 260.0,711.0 261.4,713.4 262.7,715.4 264.0,715.5 265.3,715.6 266.6,715.7 267.8,713.8 269.1,711.7 270.4,712.8 271.6,711.9 272.9,709.1 274.1,706.3 275.4,703.5 276.7,700.0 278.0,693.7 279.3,694.4 280.6,692.4 281.9,689.7 283.3,687.0 284.6,684.3"/>
<polyline stroke-width="6.28" points="284.6,684.3 285.9,680.9 287.2,674.7 288.5,675.5 289.8,673.5 291.1,670.8 292.5,668.1 293.8,665.4 295.1,662.0 296.4,655.8 297.7,656.6 299.0,654.3 300.3,651.3 301.7,648.3 303.0,645.3 304.3,641.6 305.6,635.1 306.9,635.6 308.2,633.3 309.6,630.3 310.9,627.3 312.2,624.3 313.5,620.6 314.8,614.1 316.1,614.7 317.4,612.5 318.8,609.6 320.1,606.7 321.4,603.8 322.7,600.1 324.0,593.8 325.3,594.3 326.6,592.1 328.0,589.2 329.3,586.3 330.6,583.4"/>
<polyline stroke-width="6.27" points="330.6,583.4 331.9,579.8 333.2,573.5 334.5,574.2 335.9,572.1 337.2,569.3 338.5,566.5 339.8,563.7 341.1,560.2 342.4,554.0 343.7,554.7 345.1,552.6 346.4,549.8 347.7,547.2 349.0,544.7 350.3,541.5 351.6,535.5 352.9,536.5 354.2,534.8 355.5,532.8 356.7,530.8 358.0,528.8 359.3,529.3 360.5,528.1 361.8,533.9 363.1,536.8 364.4,538.9 365.7,541.1 367.0,543.2 368.3,544.6 369.6,543.2 370.9,548.9 372.2,551.7 373.6,553.9 374.9,556.1 376.2,558.2"/>
<polyline stroke-width="6.26" points="376.2,558.2 377.5,559.7 378.8,558.3 380.1,564.0 381.4,566.8 382.8,569.0 384.1,571.2 385.4,573.3 386.7,574.8 388.0,573.4 389.3,579.1 390.6,581.9 392.0,584.1 393.3,586.3 394.6,588.4 395.9,589.7 397.2,588.1 398.5,593.6 399.9,596.3 401.2,598.2 402.5,600.2 403.8,602.1 405.1,603.4 406.4,601.9 407.7,607.3 409.1,610.0 410.4,611.9 411.7,613.9 413.0,615.9 414.3,617.2 415.6,615.7 416.9,621.2 418.3,623.9 419.6,625.9 420.9,627.8 422.2,629.8"/>
<polyline stroke-width="6.24" points="422.2,629.8 423.5,631.1 424.8,629.6 426.2,635.1 427.5,637.8 428.8,639.8 430.1,641.8 431.4,643.8 432.7,645.1 434.0,643.6 435.4,649.1 436.7,651.9 438.0,653.9 439.3,655.9 440.6,657.9 441.9,659.2 443.3,657.7 444.6,663.2 445.9,665.8 447.2,667.5 448.5,669.3 449.8,671.0 451.1,672.1 452.5,670.3 453.8,675.6 455.1,678.0 456.4,679.8 457.7,681.6 459.0,683.3 460.3,684.3 461.7,682.6 463.0,687.9 464.3,690.2 465.6,691.8 466.9,693.4 468.2,695.0"/>
<polyline stroke-width="6.23" points="468.2,695.0 469.6,695.9 470.9,694.0 472.2,699.1 473.5,701.4 474.8,703.0 476.1,704.7 477.4,706.3 478.8,707.2 480.1,705.3 481.4,710.4 482.7,712.7 484.0,714.3 485.3,715.9 486.6,717.5 488.0,718.4 489.3,716.5 490.6,721.6 491.9,723.9 493.2,725.6 494.5,727.2 495.9,728.8 497.2,729.7 498.5,727.8 499.8,732.9 501.1,735.2 502.4,736.8 503.7,738.4 505.1,740.0 506.4,740.9 507.7,739.0 509.0,744.1 510.3,746.5 511.6,748.1 512.9,749.7 514.3,751.3"/>
<polyline stroke-width="6.22" points="514.3,751.3 515.6,752.2 516.9,750.3 518.2,755.3 519.5,757.5 520.8,759.0 522.2,760.5 523.5,761.9 524.8,762.7 526.1,760.7 527.4,765.7 528.7,767.9 530.0,769.4 531.4,770.9 532.7,772.4 534.0,773.1 535.3,771.1 536.6,776.1 537.9,778.3 539.3,779.8 540.6,781.0 541.9,782.2 543.2,782.7 544.5,780.4 545.9,785.1 547.2,787.0 548.6,788.2 549.9,789.4 551.3,790.6 552.7,790.8 554.0,788.2 555.4,792.6 556.7,794.3 558.1,795.2 559.4,796.1 560.8,796.6"/>
<polyline stroke-width="6.20" points="560.8,796.6 562.1,795.3 563.5,793.5 564.8,796.4 566.2,798.7 567.6,799.0 568.9,799.2 570.3,799.5 571.6,797.8 573.0,795.7 574.3,798.1 575.7,800.2 577.0,800.3 578.3,800.4 579.6,800.6 580.9,798.8 582.2,796.7 583.5,799.1 584.9,801.2 586.2,801.3 587.5,801.5 588.8,801.6 590.1,799.8 591.4,797.7 592.8,800.1 594.1,802.2 595.4,802.3 596.7,802.5 598.0,802.6 599.3,800.8 600.6,798.7 602.0,801.1 603.3,803.2 604.6,803.3 605.9,803.5 607.2,803.6"/>
<polyline stroke-width="6.27" points="607.2,803.6 608.5,801.9 609.8,799.8 611.2,802.2 612.5,804.3 613.8,804.5 615.1,804.7 616.4,804.8 617.7,803.1 619.1,801.1 620.4,803.5 621.7,805.6 623.0,805.7 624.3,805.9 625.6,806.1 626.9,804.4 628.3,802.4 629.6,804.8 630.9,806.8 632.2,807.0 633.5,807.2 634.8,807.4 636.2,805.7 637.5,803.7 638.8,806.1 640.1,808.1 641.4,808.3 642.7,808.5 644.0,808.7 645.4,807.0 646.7,805.0 648.0,807.4 649.3,809.4 650.6,809.6 651.9,809.8 653.2,810.0"/>
<polyline stroke-width="6.38" points="653.2,810.0 654.6,808.3 655.9,806.4 657.2,808.7 658.5,810.7 659.8,810.9 661.1,811.1 662.5,811.2 663.8,809.6 665.1,807.7 666.4,810.0 667.7,812.0 669.0,812.2 670.3,812.3 671.7,812.5 673.0,810.9 674.3,809.0 675.6,811.3 676.9,813.3 678.2,813.4 679.5,813.6 680.9,813.8 682.2,812.2 683.5,810.3 684.8,812.6 686.1,814.6 687.4,814.8 688.8,815.0 690.1,815.2 691.4,813.6 692.7,811.8 694.0,814.0 695.3,816.0 696.6,816.2 698.0,816.4 699.3,816.6"/>
<polyline stroke-width="6.49" points="699.3,816.6 700.6,815.1 701.9,813.2 703.2,815.5 704.5,817.4 705.8,817.6 707.2,817.8 708.5,818.0 709.8,816.5 711.1,814.7 712.4,816.9 713.7,818.8 715.1,819.0 716.4,819.2 717.7,819.4 719.0,817.9 720.3,816.1 721.6,818.3 722.9,820.2 724.3,820.4 725.6,820.6 726.9,820.8 728.2,819.4 729.5,817.6 730.8,819.8 732.2,821.6 733.5,821.8 734.8,822.1 736.1,822.3 737.4,820.8 738.7,819.0 740.0,821.2 741.4,823.1 742.7,823.3 744.0,823.5 745.3,823.7"/>
<polyline stroke-width="6.60" points="745.3,823.7 746.6,822.2 747.9,820.5 749.2,822.6 750.6,824.5 751.9,824.7 753.2,824.9 754.5,825.1 755.8,823.6 757.1,821.9 758.5,824.1 759.8,825.9 761.1,826.1 762.4,826.3 763.7,826.5 765.0,825.1 766.3,823.4 767.7,825.5 769.0,827.3 770.3,827.6 771.6,827.9 772.9,828.1 774.2,826.8 775.5,825.2 776.9,827.3 778.2,829.2 779.5,829.4 780.8,829.7 782.1,829.9 783.4,828.6 784.8,827.0 786.1,829.1 787.4,831.0 788.7,831.2 790.0,831.5 791.3,831.8"/>
<polyline stroke-width="6.88" points="791.3,831.8 792.6,830.5 794.0,828.9 795.3,831.0 796.6,832.8 797.9,833.0 799.2,833.3 800.5,833.6 801.8,832.3 803.2,830.8 804.5,832.8 805.8,834.6 807.1,834.9 808.4,835.1 809.7,835.4 811.1,834.1 812.4,832.6 813.7,834.7 815.0,836.4 816.3,836.7 817.6,836.9 818.9,837.2 820.3,836.0 821.6,834.5 822.9,836.5 824.2,838.2 825.5,838.5 826.8,838.7 828.2,839.0 829.5,837.8 830.8,836.3 832.1,838.3 833.4,840.0 834.7,840.3 836.0,840.6 837.4,840.8"/>
<polyline stroke-width="7.16" points="837.4,840.8 838.7,839.6 840.0,838.2 841.3,840.2 842.6,841.8 843.9,842.1 845.2,842.4 846.6,842.6 847.9,841.5 849.2,840.1 850.5,842.0 851.8,843.7 853.1,843.9 854.5,844.2 855.8,844.4 857.1,843.3 858.4,841.9 859.7,843.8 861.0,845.5 862.3,845.7 863.7,846.0 865.0,846.3 866.3,845.1 867.6,843.8 868.9,845.7 870.2,847.3 871.5,847.5 872.9,847.8 874.2,848.1 875.5,847.0 876.8,845.7 878.1,847.5 879.4,849.1 880.8,849.4 882.1,849.6 883.4,849.9"/>
<polyline stroke-width="7.40" points="883.4,849.9 884.7,848.8 886.0,847.5 887.3,849.3 888.6,850.9 890.0,851.2 891.3,851.4 892.6,851.7 893.9,850.6 895.2,849.4 896.5,851.2 897.8,852.7 899.2,853.0 900.5,853.2 901.8,853.5 903.1,852.5 904.4,851.2 905.7,853.0 907.1,854.5 908.4,854.8 909.7,855.0 911.0,855.3 912.3,854.3 913.6,853.0 914.9,854.8 916.3,856.3 917.6,856.6 918.9,856.8 920.2,857.1 921.5,856.0 922.8,854.8 924.2,856.6 925.5,858.1 926.8,858.3 928.1,858.6 929.4,858.9"/>
<polyline stroke-width="7.40" points="929.4,858.9 930.7,857.8 932.0,856.6 933.4,858.3 934.7,859.9 936.0,860.1 937.3,860.4 938.6,860.6 939.9,859.6 941.2,858.4 942.6,860.1 943.9,861.7 945.2,861.9 946.5,862.2 947.8,862.4 949.1,861.4 950.5,860.2 951.8,861.9 953.1,863.4 954.4,863.7 955.7,864.0 957.0,864.2 958.3,863.2 959.7,862.0 961.0,863.7 962.3,865.2 963.6,865.5 964.9,865.7 966.2,866.0 967.5,865.0 968.9,863.8 970.2,865.5 971.5,867.0 972.8,867.3 974.1,867.5 975.4,867.8"/>
<polyline stroke-width="7.40" points="975.4,867.8 976.8,866.8 978.1,865.6 979.4,867.3 980.7,868.8 982.0,869.1 983.3,869.3 984.6,869.6 986.0,868.6 987.3,867.4 988.6,869.1 989.9,870.6 991.2,870.8 992.5,871.1 993.8,871.4 995.2,870.4 996.5,869.2 997.8,870.9 999.1,872.4 1000.4,872.6 1001.7,872.8 1003.1,873.0 1004.4,872.0 1005.7,870.8 1007.0,872.4 1008.3,873.9 1009.6,874.1 1010.9,874.3 1012.3,874.5 1013.6,873.5 1014.9,872.2 1016.2,873.9 1017.5,875.4 1018.8,875.6 1020.2,875.8 1021.5,876.0"/>
<polyline stroke-width="7.40" points="1021.5,876.0 1022.8,875.0 1024.1,873.7 1025.4,875.4 1026.7,876.8 1028.0,877.0 1029.4,877.2 1030.7,877.5 1032.0,876.4 1033.3,875.2 1034.6,876.9 1035.9,878.3 1037.2,878.5 1038.6,878.7 1039.9,878.9 1041.2,877.9 1042.5,876.7 1043.8,878.3 1045.1,879.8 1046.5,880.0 1047.8,880.2 1049.1,880.4 1050.4,879.4 1051.7,878.2 1053.0,879.8 1054.3,881.2 1055.7,881.5 1057.0,881.7 1058.3,881.9 1059.6,880.9 1060.9,879.7 1062.2,881.3 1063.5,882.7 1064.9,882.9 1066.2,883.1 1067.5,883.3"/>
<polyline stroke-width="7.40" points="1067.5,883.3 1068.8,882.3 1070.1,881.1 1071.4,882.8 1072.8,884.2 1074.1,884.4 1075.4,884.6 1076.7,884.8 1078.0,883.8 1079.3,882.6 1080.6,884.2 1082.0,885.7 1083.3,885.9 1084.6,886.1 1085.9,886.3 1087.2,885.3 1088.5,884.1 1089.8,885.7 1091.2,887.1 1092.5,887.3 1093.8,887.6 1095.1,887.8 1096.4,886.8 1097.7,885.6 1099.1,887.2 1100.4,888.6 1101.7,888.8 1103.0,889.0 1104.3,889.3 1105.6,888.3 1106.9,887.0 1108.3,888.7 1109.6,890.1 1110.9,890.3 1112.2,890.5 1113.5,890.7"/>
<polyline stroke-width="7.23" points="1113.5,890.7 1114.8,889.7 1116.2,888.5 1117.5,890.1 1118.8,891.6 1120.1,891.8 1121.4,892.0 1122.7,892.2 1124.0,891.2 1125.4,889.9 1126.7,891.6 1128.0,893.1 1129.3,893.3 1130.6,893.5 1131.9,893.7 1133.2,892.7 1134.6,891.4 1135.9,893.1 1137.2,894.6 1138.5,894.8 1139.8,895.0 1141.1,895.2 1142.5,894.1 1143.8,892.8 1145.1,894.6 1146.4,896.1 1147.7,896.3 1149.0,896.5 1150.3,896.7 1151.7,895.6 1153.0,894.3 1154.3,896.0 1155.6,897.6 1156.9,897.8 1158.2,898.0 1159.5,898.2"/>
<polyline stroke-width="7.01" points="1159.5,898.2 1160.9,897.1 1162.2,895.7 1163.5,897.5 1164.8,899.1 1166.1,899.3 1167.4,899.5 1168.8,899.7 1170.1,898.6 1171.4,897.2 1172.7,899.0 1174.0,900.6 1175.3,900.8 1176.6,901.0 1178.0,901.2 1179.3,900.0 1180.6,898.6 1181.9,900.4 1183.2,902.1 1184.5,902.3 1185.8,902.5 1187.2,902.7 1188.5,901.5 1189.8,900.0 1191.1,901.9 1192.4,903.6 1193.7,903.8 1195.1,904.0 1196.4,904.2 1197.7,903.0 1199.0,901.5 1200.3,903.4 1201.6,905.0 1202.9,905.2 1204.3,905.3 1205.6,905.5"/>
<polyline stroke-width="6.80" points="1205.6,905.5 1206.9,904.2 1208.2,902.7 1209.5,904.5 1210.8,906.2 1212.2,906.3 1213.5,906.5 1214.8,906.7 1216.1,905.4 1217.4,903.8 1218.7,905.7 1220.0,907.3 1221.4,907.5 1222.7,907.7 1224.0,907.8 1225.3,906.5 1226.6,904.9 1227.9,906.8 1229.2,908.5 1230.6,908.7 1231.9,908.8 1233.2,909.0 1234.5,907.7 1235.8,906.0 1237.1,908.0 1238.5,909.7 1239.8,909.9 1241.1,910.0 1242.4,910.2 1243.7,908.8 1245.0,907.2 1246.3,909.1 1247.7,910.9 1249.0,911.0 1250.3,911.2 1251.6,911.4"/>
<polyline stroke-width="6.57" points="1251.6,911.4 1252.9,910.0 1254.2,908.3 1255.5,910.3 1256.9,912.0 1258.2,912.2 1259.5,912.4 1260.8,912.5 1262.1,911.1 1263.4,909.4 1264.8,911.4 1266.1,913.2 1267.4,913.4 1268.7,913.5 1270.0,913.7 1271.3,912.2 1272.6,910.5 1274.0,912.6 1275.3,914.4 1276.6,914.6 1277.9,914.7 1279.2,914.9 1280.5,913.4 1281.8,911.6 1283.2,913.7 1284.5,915.6 1285.8,915.7 1287.1,915.9 1288.4,916.1 1289.7,914.5 1291.1,912.7 1292.4,914.9 1293.7,916.7 1295.0,916.9 1296.3,917.1 1297.6,917.2"/>
<polyline stroke-width="6.34" points="1297.6,917.2 1298.9,915.7 1300.3,913.8 1301.6,916.0 1302.9,917.9 1304.2,918.1 1305.5,918.2 1306.8,918.4 1308.2,916.8 1309.5,914.9 1310.8,917.1 1312.1,919.1 1313.4,919.3 1314.7,919.4 1316.0,919.6 1317.4,918.0 1318.7,916.0 1320.0,918.3 1321.3,920.3 1322.6,920.4 1323.9,920.6 1325.2,920.8 1326.6,919.1 1327.9,917.1 1329.2,919.4 1330.5,921.4 1331.8,921.6 1333.1,921.8 1334.5,921.9 1335.8,920.2 1337.1,918.2 1338.4,920.6 1339.7,922.6 1341.0,922.7 1342.3,922.9 1343.7,923.1"/>
<polyline stroke-width="6.11" points="1343.7,923.1 1345.0,921.3 1346.3,919.3 1347.6,921.7 1348.9,923.7 1350.2,923.9 1351.5,924.0 1352.9,924.2 1354.2,922.5 1355.5,920.3 1356.8,922.8 1358.1,924.9 1359.4,925.0 1360.8,925.2 1362.1,925.4 1363.4,923.6 1364.7,921.4 1366.0,923.9 1367.3,926.0 1368.6,926.2 1370.0,926.3 1371.3,926.5 1372.6,924.7 1373.9,922.5 1375.2,925.0 1376.5,927.1 1377.8,927.3 1379.2,927.4 1380.5,927.6 1381.8,925.8 1383.1,923.6 1384.4,926.1 1385.7,928.2 1387.1,928.4 1388.4,928.6 1389.7,928.7"/>
<polyline stroke-width="6.13" points="1389.7,928.7 1391.0,926.9 1392.3,924.7 1393.6,927.2 1394.9,929.4 1396.3,929.5 1397.6,929.7 1398.9,929.8 1400.2,928.0 1401.5,925.9 1402.8,928.3 1404.2,930.5 1405.5,930.6 1406.8,930.8 1408.1,931.0 1409.4,929.1 1410.7,927.0 1412.0,929.5 1413.4,931.6 1414.7,931.7 1416.0,931.9 1417.3,932.1 1418.6,930.2 1419.9,928.1 1421.2,930.6 1422.6,932.7 1423.9,932.9 1425.2,933.0 1426.5,933.2 1427.8,931.4 1429.1,929.2 1430.5,931.7 1431.8,933.8 1433.1,934.0 1434.4,934.1 1435.7,934.3"/>
<polyline stroke-width="6.16" points="1435.7,934.3 1437.0,932.5 1438.3,930.3 1439.7,932.8 1441.0,934.9 1442.3,935.1 1443.6,935.3 1444.9,935.4 1446.2,933.6 1447.5,931.4 1448.9,933.9 1450.2,936.0 1451.5,936.2 1452.8,936.4 1454.1,936.5 1455.4,934.7 1456.8,932.5 1458.1,935.0 1459.4,937.2 1460.7,937.3 1462.0,937.5 1463.3,937.6 1464.6,935.8 1466.0,933.7 1467.3,936.1 1468.6,938.3 1469.9,938.4 1471.2,938.6 1472.5,938.8 1473.8,936.9 1475.2,934.8 1476.5,937.3 1477.8,939.4 1479.1,939.6 1480.4,939.7 1481.7,939.8"/>
<polyline stroke-width="6.19" points="1481.7,939.8 1483.1,938.0 1484.4,935.8 1485.7,938.2 1487.0,940.3 1488.3,940.5 1489.6,940.6 1490.9,940.7 1492.3,938.9 1493.6,936.7 1494.9,939.1 1496.2,941.2 1497.5,941.3 1498.8,941.5 1500.2,941.6 1501.5,939.8 1502.8,937.6 1504.1,940.0 1505.4,942.1 1506.7,942.2 1508.0,942.4 1509.4,942.5 1510.7,940.6 1512.0,938.4 1513.3,940.9 1514.6,943.0 1515.9,943.1 1517.2,943.2 1518.6,943.4 1519.9,941.5 1521.2,939.3 1522.5,941.8 1523.8,943.9 1525.1,944.0 1526.5,944.1 1527.8,944.3"/>
<polyline stroke-width="6.23" points="1527.8,944.3 1529.1,942.4 1530.4,940.2 1531.7,942.7 1533.0,944.8 1534.3,944.9 1535.7,945.0 1537.0,945.1 1538.3,943.3 1539.6,941.1 1540.9,943.5 1542.2,945.6 1543.5,945.8 1544.9,945.9 1546.2,946.0 1547.5,944.2 1548.8,942.0 1550.1,944.4 1551.4,946.5 1552.8,946.6 1554.1,946.7 1555.4,946.9 1556.7,945.0 1558.0,942.8 1559.3,945.2 1560.6,947.3 1562.0,947.5 1563.3,947.6 1564.6,947.7 1565.9,945.9 1567.2,943.6 1568.5,946.1 1569.8,948.2 1571.2,948.3 1572.5,948.4 1573.8,948.6"/>
<polyline stroke-width="6.26" points="1573.8,948.6 1575.1,946.7 1576.4,944.5 1577.7,946.9 1579.1,949.0 1580.4,949.2 1581.7,949.3 1583.0,949.4 1584.3,947.6 1585.6,945.4 1586.9,947.8 1588.3,950.0 1589.6,950.1 1590.9,950.2 1592.2,950.3 1593.5,948.5 1594.8,946.3 1596.2,948.8 1597.5,950.9 1598.8,951.0 1600.1,951.1 1601.4,951.3 1602.7,949.4 1604.0,947.2 1605.4,949.7 1606.7,951.8 1608.0,951.9 1609.3,952.0 1610.6,952.2 1611.9,950.3 1613.2,948.1 1614.6,950.6 1615.9,952.7 1617.2,952.8 1618.5,953.0 1619.8,953.1"/>
<polyline stroke-width="6.29" points="1619.8,953.1 1621.1,951.2 1622.5,949.0 1623.8,951.4 1625.1,953.5 1626.4,953.6 1627.7,953.7 1629.0,953.8 1630.3,951.9 1631.7,949.7 1633.0,952.1 1634.3,954.2 1635.6,954.2 1636.9,954.2 1638.2,954.2 1639.5,952.6 1640.9,950.4 1642.2,952.8 1643.5,954.2 1644.8,954.2 1646.1,954.2 1647.4,954.2 1648.8,953.3 1650.1,951.1 1651.4,953.5 1652.7,954.2 1654.0,954.2 1655.3,954.2 1656.6,954.2 1658.0,954.0"/>
<polyline stroke-width="6.3" points="239.0,714.8 240.3,712.9 241.6,710.6 242.9,712.9 244.3,714.9 245.6,714.9 246.9,714.9 248.2,714.9 249.5,713.0 250.8,710.8 252.2,713.1 253.5,715.0 254.8,715.0 256.1,715.1 257.4,715.1 258.7,713.2 260.0,711.0 261.4,713.4 262.7,715.4 264.0,715.5 265.3,715.6 266.6,715.7 268.0,713.8 269.4,711.7 270.8,712.8 272.1,711.9 273.5,709.1 274.9,706.3 276.3,703.5 277.6,700.0 278.9,693.7 280.2,694.4 281.5,692.4 282.9,689.7 284.2,687.0 285.5,684.3 286.8,680.9 288.1,674.7 289.4,675.5 290.7,673.5 292.1,670.8 293.4,668.1 294.7,665.4 296.0,662.0 297.3,655.8 298.6,656.6 300.0,654.3 301.3,651.3 302.6,648.3 303.9,645.3 305.2,641.6 306.5,635.1 307.8,635.6 309.2,633.3 310.5,630.3 311.8,627.3 313.1,624.3 314.4,620.6 315.7,614.1 317.0,614.7 318.4,612.5 319.7,609.6 321.0,606.7 322.3,603.8 323.6,600.1 324.9,593.8 326.3,594.3 327.6,592.1 328.9,589.2 330.2,586.3 331.5,583.4 332.8,579.8 334.1,573.5 335.5,574.2 336.8,572.1 338.1,569.3 339.4,566.5 340.7,563.7 342.0,560.2 343.4,554.0 344.7,554.7 346.0,552.6 347.3,549.8 348.6,547.2 349.9,544.7 351.2,541.5 352.6,535.5 353.9,536.5 355.3,534.8 356.6,532.8 358.0,530.8 359.3,528.8 360.7,529.3 362.1,528.1 363.4,533.9 364.8,536.8 366.1,538.9 367.5,541.1 368.8,543.2 370.1,544.6 371.4,543.2 372.7,548.9 374.0,551.7 375.4,553.9 376.7,556.1 378.0,558.2 379.3,559.7 380.6,558.3 381.9,564.0 383.2,566.8 384.6,569.0 385.9,571.2 387.2,573.3 388.5,574.8 389.8,573.4 391.1,579.1 392.4,581.9 393.8,584.1 395.1,586.3 396.4,588.4 397.7,589.7 399.0,588.1 400.3,593.6 401.7,596.3 403.0,598.2 404.3,600.2 405.6,602.1 406.9,603.4 408.2,601.9 409.5,607.3 410.9,610.0 412.2,611.9 413.5,613.9 414.8,615.9 416.1,617.2 417.4,615.7 418.7,621.2 420.1,623.9 421.4,625.9 422.7,627.8 424.0,629.8 425.3,631.1 426.6,629.6 428.0,635.1 429.3,637.8 430.6,639.8 431.9,641.8 433.2,643.8 434.5,645.1 435.8,643.6 437.2,649.1 438.5,651.9 439.8,653.9 441.1,655.9 442.4,657.9 443.7,659.2 445.1,657.7 446.4,663.2 447.7,665.8 449.0,667.5 450.3,669.3 451.6,671.0 452.9,672.1 454.3,670.3 455.6,675.6 456.9,678.0 458.2,679.8 459.5,681.6 460.8,683.3 462.1,684.3 463.5,682.6 464.8,687.9 466.1,690.2 467.4,691.8 468.7,693.4 470.0,695.0 471.4,695.9 472.7,694.0 474.0,699.1 475.3,701.4 476.6,703.0 477.9,704.7 479.2,706.3 480.6,707.2 481.9,705.3 483.2,710.4 484.5,712.7 485.8,714.3 487.1,715.9 488.4,717.5 489.8,718.4 491.1,716.5 492.4,721.6 493.7,723.9 495.0,725.6 496.3,727.2 497.7,728.8 499.0,729.7 500.3,727.8 501.6,732.9 502.9,735.2 504.2,736.8 505.5,738.4 506.9,740.0 508.2,740.9 509.5,739.0 510.8,744.1 512.1,746.5 513.4,748.1 514.7,749.7 516.1,751.3 517.4,752.2 518.7,750.3 520.0,755.3 521.3,757.5 522.6,759.0 524.0,760.5 525.3,761.9 526.6,762.7 527.9,760.7 529.2,765.7 530.5,767.9 531.8,769.4 533.2,770.9 534.5,772.4 535.8,773.1 537.1,771.1 538.4,776.1 539.7,778.3 541.1,779.8 542.4,781.0 543.7,782.2 545.0,782.7 546.3,780.4 547.6,785.1 548.8,787.0 550.1,788.2 551.4,789.4 552.7,790.6 554.0,790.8 555.2,788.2 556.5,792.6 557.8,794.3 559.1,795.2 560.3,796.1 561.6,796.6 562.9,795.3 564.2,793.5 565.4,796.4 566.7,798.7 568.0,799.0 569.3,799.2 570.5,799.5 571.8,797.8 573.1,795.7 574.4,798.1 575.7,800.2 577.0,800.3 578.3,800.4 579.6,800.6"/>
</g>
<circle cx="1180.7" cy="897.3" r="11.2" fill="#ffb3c1" stroke="#d90429" stroke-width="4.4"/>
<circle cx="1625.8" cy="953.3" r="10.8" fill="#90ee90" stroke="#0b7d5b" stroke-width="4.4"/>
<line x1="1180.7" y1="897.3" x2="1180.7" y2="884" stroke="#d90429" stroke-width="3.2"/>
<line x1="1625.8" y1="953.3" x2="1636" y2="964" stroke="#0b7d5b" stroke-width="3.2"/>
<clipPath id="cp"><rect x="147" y="122" width="1583.6" height="871"/></clipPath>
<g font-family="'DejaVu Sans', 'Liberation Sans', sans-serif" font-weight="bold" font-size="27.3px" clip-path="url(#cp)">
<text x="1058.6" y="886.5" fill="#d90429" letter-spacing="0.22">Peak: Nov 2025</text>
<text x="1492.4" y="973.8" fill="#0b7d5b" letter-spacing="0.2">Trough: Oct 2026</text>
</g>
<g font-family="'DejaVu Sans', 'Liberation Sans', sans-serif" fill="#495057" font-size="26.7px" letter-spacing="0.5">
<text x="132.9" y="171.9" text-anchor="end">$20</text>
<text x="132.9" y="370.0" text-anchor="end">$15</text>
<text x="132.9" y="568.1" text-anchor="end">$10</text>
<text x="132.9" y="766.2" text-anchor="end">$5</text>
<text x="132.9" y="964.3" text-anchor="end">$0</text>
<text x="288.6" y="1027.6" text-anchor="middle">2024</text>
<text x="769.5" y="1027.6" text-anchor="middle">2025</text>
<text x="1248.8" y="1027.6" text-anchor="middle">2026</text>
<text x="1728.5" y="1027.6" text-anchor="middle">2027</text>
<text x="938.5" y="1065.5" text-anchor="middle" font-size="33px" letter-spacing="0">Date</text>
<text transform="translate(66.3,559) rotate(-90)" text-anchor="middle" font-size="33px" letter-spacing="0">Price (USD)</text>
</g>
<line x1="182" x2="220.3" y1="80.7" y2="80.7" stroke="#4361ee" stroke-width="8.7"/>
<line x1="366" x2="405" y1="80.7" y2="80.7" stroke="#2b2d42" stroke-width="8.7"/>
<rect x="689" y="59" width="43.8" height="43.8" fill="#d4eaf2"/>
<rect x="971" y="59" width="43.8" height="43.8" fill="#f7c1c1"/>
<g font-family="'DejaVu Sans', 'Liberation Sans', sans-serif" fill="#000" font-size="24.8px">
<text x="242.0" y="89.8">Forecast</text>
<text x="425.5" y="89.8">Historical Price</text>
<text x="751.0" y="89.8">60% Confidence</text>
<text x="1034.5" y="89.8">Potential Resistance</text>
</g>
</svg>
</body></html>
